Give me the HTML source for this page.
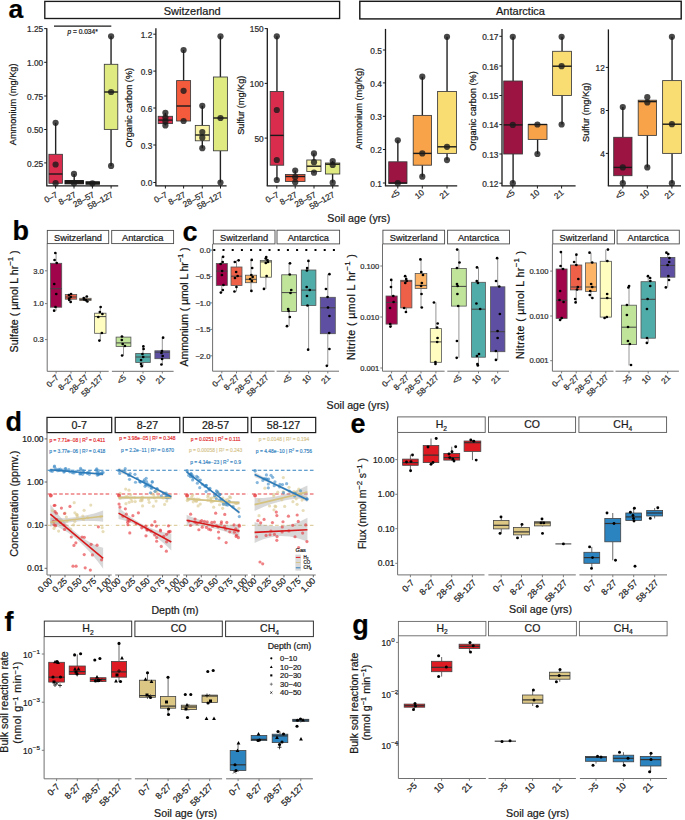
<!DOCTYPE html>
<html><head><meta charset="utf-8"><style>
html,body{margin:0;padding:0;background:#fff;}
svg{display:block;font-family:"Liberation Sans",sans-serif;}
text{stroke:#1a1a1a;stroke-width:0.22px;}
text.c{stroke:none;}
</style></head><body>
<svg width="685" height="820" viewBox="0 0 685 820">
<rect width="685" height="820" fill="#fff"/>
<rect x="44.8" y="1.4" width="294.8" height="17.1" fill="#fff" stroke="#1a1a1a" stroke-width="1.35"/>
<text x="192.2" y="14.6" font-size="11" fill="#1a1a1a" text-anchor="middle">Switzerland</text>
<rect x="359.8" y="1.3" width="321.4" height="17.6" fill="#fff" stroke="#1a1a1a" stroke-width="1.45"/>
<text x="520.5" y="14.6" font-size="11" fill="#1a1a1a" text-anchor="middle">Antarctica</text>
<text x="8.6" y="18.4" font-size="26.5" fill="#000" font-weight="bold">a</text>
<line x1="46.8" y1="28.2" x2="46.8" y2="185.8" stroke="#1a1a1a" stroke-width="1.3"/>
<line x1="46.2" y1="185.8" x2="118.2" y2="185.8" stroke="#1a1a1a" stroke-width="1.3"/>
<line x1="44.2" y1="28.6" x2="46.8" y2="28.6" stroke="#1a1a1a" stroke-width="1"/>
<text x="43.2" y="32.3" font-size="8.3" fill="#333" text-anchor="end">1.25</text>
<line x1="44.2" y1="62.3" x2="46.8" y2="62.3" stroke="#1a1a1a" stroke-width="1"/>
<text x="43.2" y="66" font-size="8.3" fill="#333" text-anchor="end">1.00</text>
<line x1="44.2" y1="96" x2="46.8" y2="96" stroke="#1a1a1a" stroke-width="1"/>
<text x="43.2" y="99.7" font-size="8.3" fill="#333" text-anchor="end">0.75</text>
<line x1="44.2" y1="129.5" x2="46.8" y2="129.5" stroke="#1a1a1a" stroke-width="1"/>
<text x="43.2" y="133.2" font-size="8.3" fill="#333" text-anchor="end">0.50</text>
<line x1="44.2" y1="162.9" x2="46.8" y2="162.9" stroke="#1a1a1a" stroke-width="1"/>
<text x="43.2" y="166.6" font-size="8.3" fill="#333" text-anchor="end">0.25</text>
<line x1="55.6" y1="185.8" x2="55.6" y2="188.5" stroke="#1a1a1a" stroke-width="1"/>
<text x="58.3" y="196.4" font-size="8.3" fill="#333" text-anchor="end" transform="rotate(-29 58.3 196.4)">0–7</text>
<line x1="74" y1="185.8" x2="74" y2="188.5" stroke="#1a1a1a" stroke-width="1"/>
<text x="76.7" y="196.4" font-size="8.3" fill="#333" text-anchor="end" transform="rotate(-29 76.7 196.4)">8–27</text>
<line x1="92.4" y1="185.8" x2="92.4" y2="188.5" stroke="#1a1a1a" stroke-width="1"/>
<text x="95.1" y="196.4" font-size="8.3" fill="#333" text-anchor="end" transform="rotate(-29 95.1 196.4)">28–57</text>
<line x1="111.1" y1="185.8" x2="111.1" y2="188.5" stroke="#1a1a1a" stroke-width="1"/>
<text x="113.8" y="196.4" font-size="8.3" fill="#333" text-anchor="end" transform="rotate(-29 113.8 196.4)">58–127</text>
<text x="16.5" y="104.4" font-size="9.2" fill="#111" text-anchor="middle" transform="rotate(-90 16.5 104.4)">Ammonium (mg/Kg)</text>
<line x1="54" y1="26.1" x2="111.3" y2="26.1" stroke="#1a1a1a" stroke-width="1.1"/>
<text x="82.6" y="33.6" font-size="6.6" fill="#222" text-anchor="middle"><tspan font-style="italic">p</tspan> = 0.034*</text>
<line x1="55.65" y1="122.8" x2="55.65" y2="154.3" stroke="#222" stroke-width="1.4"/>
<rect x="48.9" y="154.3" width="13.5" height="29" fill="#DA2D4E" stroke="#3a3a3a" stroke-width="0.85"/>
<line x1="48.9" y1="174" x2="62.4" y2="174" stroke="#1a1a1a" stroke-width="1.4"/>
<line x1="74.2" y1="173.9" x2="74.2" y2="180.6" stroke="#222" stroke-width="1.4"/>
<rect x="65" y="180.6" width="18.4" height="3.2" fill="#2a1a14" stroke="#111" stroke-width="1.0"/>
<line x1="65" y1="182" x2="83.4" y2="182" stroke="#1a1a1a" stroke-width="1.4"/>
<rect x="86" y="181.8" width="13.4" height="2.4" fill="#2a2a1a" stroke="#111" stroke-width="1.0"/>
<line x1="86" y1="183" x2="99.4" y2="183" stroke="#1a1a1a" stroke-width="1.4"/>
<line x1="111.05" y1="36.3" x2="111.05" y2="64.3" stroke="#222" stroke-width="1.4"/>
<line x1="111.05" y1="129.4" x2="111.05" y2="165.9" stroke="#222" stroke-width="1.4"/>
<rect x="104.3" y="64.3" width="13.5" height="65.1" fill="#DFEB80" stroke="#3a3a3a" stroke-width="0.85"/>
<line x1="104.3" y1="92" x2="117.8" y2="92" stroke="#1a1a1a" stroke-width="1.4"/>
<circle cx="55.6" cy="122.8" r="3.1" fill="#1a1a1a" fill-opacity="0.8"/>
<circle cx="55.6" cy="164.5" r="3.1" fill="#1a1a1a" fill-opacity="0.8"/>
<circle cx="55.6" cy="183.2" r="3.1" fill="#1a1a1a" fill-opacity="0.8"/>
<circle cx="74" cy="173.9" r="3.1" fill="#1a1a1a" fill-opacity="0.8"/>
<circle cx="74" cy="183.3" r="3.1" fill="#1a1a1a" fill-opacity="0.8"/>
<circle cx="92.4" cy="183.3" r="3.1" fill="#1a1a1a" fill-opacity="0.8"/>
<circle cx="111.1" cy="36.3" r="3.1" fill="#1a1a1a" fill-opacity="0.8"/>
<circle cx="111.1" cy="92" r="3.1" fill="#1a1a1a" fill-opacity="0.8"/>
<circle cx="111.1" cy="165.9" r="3.1" fill="#1a1a1a" fill-opacity="0.8"/>
<line x1="155.9" y1="28.2" x2="155.9" y2="185.8" stroke="#1a1a1a" stroke-width="1.3"/>
<line x1="155.3" y1="185.8" x2="226.6" y2="185.8" stroke="#1a1a1a" stroke-width="1.3"/>
<line x1="153.3" y1="34.2" x2="155.9" y2="34.2" stroke="#1a1a1a" stroke-width="1"/>
<text x="152.3" y="37.9" font-size="8.3" fill="#333" text-anchor="end">1.2</text>
<line x1="153.3" y1="71.1" x2="155.9" y2="71.1" stroke="#1a1a1a" stroke-width="1"/>
<text x="152.3" y="74.8" font-size="8.3" fill="#333" text-anchor="end">0.9</text>
<line x1="153.3" y1="108" x2="155.9" y2="108" stroke="#1a1a1a" stroke-width="1"/>
<text x="152.3" y="111.7" font-size="8.3" fill="#333" text-anchor="end">0.6</text>
<line x1="153.3" y1="145" x2="155.9" y2="145" stroke="#1a1a1a" stroke-width="1"/>
<text x="152.3" y="148.7" font-size="8.3" fill="#333" text-anchor="end">0.3</text>
<line x1="153.3" y1="182.5" x2="155.9" y2="182.5" stroke="#1a1a1a" stroke-width="1"/>
<text x="152.3" y="186.2" font-size="8.3" fill="#333" text-anchor="end">0.0</text>
<line x1="165.4" y1="185.8" x2="165.4" y2="188.5" stroke="#1a1a1a" stroke-width="1"/>
<text x="168.1" y="196.4" font-size="8.3" fill="#333" text-anchor="end" transform="rotate(-29 168.1 196.4)">0–7</text>
<line x1="183.6" y1="185.8" x2="183.6" y2="188.5" stroke="#1a1a1a" stroke-width="1"/>
<text x="186.3" y="196.4" font-size="8.3" fill="#333" text-anchor="end" transform="rotate(-29 186.3 196.4)">8–27</text>
<line x1="202.3" y1="185.8" x2="202.3" y2="188.5" stroke="#1a1a1a" stroke-width="1"/>
<text x="205" y="196.4" font-size="8.3" fill="#333" text-anchor="end" transform="rotate(-29 205 196.4)">28–57</text>
<line x1="220.5" y1="185.8" x2="220.5" y2="188.5" stroke="#1a1a1a" stroke-width="1"/>
<text x="223.2" y="196.4" font-size="8.3" fill="#333" text-anchor="end" transform="rotate(-29 223.2 196.4)">58–127</text>
<text x="131.8" y="107.7" font-size="9.2" fill="#111" text-anchor="middle" transform="rotate(-90 131.8 107.7)">Organic carbon (%)</text>
<line x1="165.35" y1="112.8" x2="165.35" y2="116.3" stroke="#222" stroke-width="1.4"/>
<line x1="165.35" y1="123.6" x2="165.35" y2="125.4" stroke="#222" stroke-width="1.4"/>
<rect x="158.2" y="116.3" width="14.3" height="7.3" fill="#DA2D4E" stroke="#3a3a3a" stroke-width="0.85"/>
<line x1="158.2" y1="120.1" x2="172.5" y2="120.1" stroke="#1a1a1a" stroke-width="1.4"/>
<line x1="183.6" y1="50" x2="183.6" y2="80.6" stroke="#222" stroke-width="1.4"/>
<rect x="176.6" y="80.6" width="14" height="40.4" fill="#F45A3C" stroke="#3a3a3a" stroke-width="0.85"/>
<line x1="176.6" y1="106" x2="190.6" y2="106" stroke="#1a1a1a" stroke-width="1.4"/>
<line x1="202.3" y1="105.8" x2="202.3" y2="125.4" stroke="#222" stroke-width="1.4"/>
<line x1="202.3" y1="140.8" x2="202.3" y2="148.2" stroke="#222" stroke-width="1.4"/>
<rect x="195.3" y="125.4" width="14" height="15.4" fill="#F9F3A6" stroke="#3a3a3a" stroke-width="0.85"/>
<line x1="195.3" y1="135" x2="209.3" y2="135" stroke="#1a1a1a" stroke-width="1.4"/>
<line x1="220.4" y1="36.3" x2="220.4" y2="77" stroke="#222" stroke-width="1.4"/>
<line x1="220.4" y1="150.8" x2="220.4" y2="182.6" stroke="#222" stroke-width="1.4"/>
<rect x="213.4" y="77" width="14" height="73.8" fill="#DFEB80" stroke="#3a3a3a" stroke-width="0.85"/>
<line x1="213.4" y1="118" x2="227.4" y2="118" stroke="#1a1a1a" stroke-width="1.4"/>
<circle cx="165.4" cy="112.8" r="3.1" fill="#1a1a1a" fill-opacity="0.8"/>
<circle cx="165.4" cy="117.5" r="3.1" fill="#1a1a1a" fill-opacity="0.8"/>
<circle cx="165.4" cy="121.4" r="3.1" fill="#1a1a1a" fill-opacity="0.8"/>
<circle cx="165.4" cy="125.4" r="3.1" fill="#1a1a1a" fill-opacity="0.8"/>
<circle cx="183.6" cy="50" r="3.1" fill="#1a1a1a" fill-opacity="0.8"/>
<circle cx="183.6" cy="90.8" r="3.1" fill="#1a1a1a" fill-opacity="0.8"/>
<circle cx="183.6" cy="121" r="3.1" fill="#1a1a1a" fill-opacity="0.8"/>
<circle cx="202.3" cy="105.8" r="3.1" fill="#1a1a1a" fill-opacity="0.8"/>
<circle cx="202.3" cy="132" r="3.1" fill="#1a1a1a" fill-opacity="0.8"/>
<circle cx="202.3" cy="137.7" r="3.1" fill="#1a1a1a" fill-opacity="0.8"/>
<circle cx="202.3" cy="148.2" r="3.1" fill="#1a1a1a" fill-opacity="0.8"/>
<circle cx="220.5" cy="36.3" r="3.1" fill="#1a1a1a" fill-opacity="0.8"/>
<circle cx="220.5" cy="118" r="3.1" fill="#1a1a1a" fill-opacity="0.8"/>
<circle cx="220.5" cy="182.6" r="3.1" fill="#1a1a1a" fill-opacity="0.8"/>
<line x1="267.3" y1="28.2" x2="267.3" y2="185.8" stroke="#1a1a1a" stroke-width="1.3"/>
<line x1="266.7" y1="185.8" x2="338.6" y2="185.8" stroke="#1a1a1a" stroke-width="1.3"/>
<line x1="264.7" y1="28.6" x2="267.3" y2="28.6" stroke="#1a1a1a" stroke-width="1"/>
<text x="263.7" y="32.3" font-size="8.3" fill="#333" text-anchor="end">150</text>
<line x1="264.7" y1="83.4" x2="267.3" y2="83.4" stroke="#1a1a1a" stroke-width="1"/>
<text x="263.7" y="87.1" font-size="8.3" fill="#333" text-anchor="end">100</text>
<line x1="264.7" y1="138.1" x2="267.3" y2="138.1" stroke="#1a1a1a" stroke-width="1"/>
<text x="263.7" y="141.8" font-size="8.3" fill="#333" text-anchor="end">50</text>
<line x1="276.8" y1="185.8" x2="276.8" y2="188.5" stroke="#1a1a1a" stroke-width="1"/>
<text x="279.5" y="196.4" font-size="8.3" fill="#333" text-anchor="end" transform="rotate(-29 279.5 196.4)">0–7</text>
<line x1="295.2" y1="185.8" x2="295.2" y2="188.5" stroke="#1a1a1a" stroke-width="1"/>
<text x="297.9" y="196.4" font-size="8.3" fill="#333" text-anchor="end" transform="rotate(-29 297.9 196.4)">8–27</text>
<line x1="314" y1="185.8" x2="314" y2="188.5" stroke="#1a1a1a" stroke-width="1"/>
<text x="316.7" y="196.4" font-size="8.3" fill="#333" text-anchor="end" transform="rotate(-29 316.7 196.4)">28–57</text>
<line x1="332.7" y1="185.8" x2="332.7" y2="188.5" stroke="#1a1a1a" stroke-width="1"/>
<text x="335.4" y="196.4" font-size="8.3" fill="#333" text-anchor="end" transform="rotate(-29 335.4 196.4)">58–127</text>
<text x="244.3" y="105.2" font-size="9.2" fill="#111" text-anchor="middle" transform="rotate(-90 244.3 105.2)">Sulfur (mg/Kg)</text>
<line x1="276.95" y1="36.3" x2="276.95" y2="91.5" stroke="#222" stroke-width="1.4"/>
<line x1="276.95" y1="165.2" x2="276.95" y2="180" stroke="#222" stroke-width="1.4"/>
<rect x="270.2" y="91.5" width="13.5" height="73.7" fill="#DA2D4E" stroke="#3a3a3a" stroke-width="0.85"/>
<line x1="270.2" y1="135.4" x2="283.7" y2="135.4" stroke="#1a1a1a" stroke-width="1.4"/>
<line x1="295.2" y1="170.6" x2="295.2" y2="174.5" stroke="#222" stroke-width="1.4"/>
<line x1="295.2" y1="181.5" x2="295.2" y2="182.3" stroke="#222" stroke-width="1.4"/>
<rect x="285.4" y="174.5" width="19.6" height="7" fill="#F45A3C" stroke="#3a3a3a" stroke-width="0.85"/>
<line x1="285.4" y1="176.5" x2="305" y2="176.5" stroke="#1a1a1a" stroke-width="1.4"/>
<line x1="313.9" y1="153.4" x2="313.9" y2="160" stroke="#222" stroke-width="1.4"/>
<line x1="313.9" y1="171.5" x2="313.9" y2="172.7" stroke="#222" stroke-width="1.4"/>
<rect x="306.8" y="160" width="14.2" height="11.5" fill="#F9F3A6" stroke="#3a3a3a" stroke-width="0.85"/>
<line x1="306.8" y1="166.2" x2="321" y2="166.2" stroke="#1a1a1a" stroke-width="1.4"/>
<line x1="332.6" y1="161" x2="332.6" y2="163" stroke="#222" stroke-width="1.4"/>
<line x1="332.6" y1="174" x2="332.6" y2="182.7" stroke="#222" stroke-width="1.4"/>
<rect x="325.4" y="163" width="14.4" height="11" fill="#DFEB80" stroke="#3a3a3a" stroke-width="0.85"/>
<line x1="325.4" y1="164.2" x2="339.8" y2="164.2" stroke="#1a1a1a" stroke-width="1.4"/>
<circle cx="276.8" cy="36.3" r="3.1" fill="#1a1a1a" fill-opacity="0.8"/>
<circle cx="276.8" cy="110" r="3.1" fill="#1a1a1a" fill-opacity="0.8"/>
<circle cx="276.8" cy="160" r="3.1" fill="#1a1a1a" fill-opacity="0.8"/>
<circle cx="276.8" cy="180" r="3.1" fill="#1a1a1a" fill-opacity="0.8"/>
<circle cx="295.2" cy="170.6" r="3.1" fill="#1a1a1a" fill-opacity="0.8"/>
<circle cx="295.2" cy="177" r="3.1" fill="#1a1a1a" fill-opacity="0.8"/>
<circle cx="295.2" cy="182.3" r="3.1" fill="#1a1a1a" fill-opacity="0.8"/>
<circle cx="314" cy="153.4" r="3.1" fill="#1a1a1a" fill-opacity="0.8"/>
<circle cx="314" cy="162.2" r="3.1" fill="#1a1a1a" fill-opacity="0.8"/>
<circle cx="314" cy="172.7" r="3.1" fill="#1a1a1a" fill-opacity="0.8"/>
<circle cx="332.7" cy="161" r="3.1" fill="#1a1a1a" fill-opacity="0.8"/>
<circle cx="332.7" cy="165" r="3.1" fill="#1a1a1a" fill-opacity="0.8"/>
<circle cx="332.7" cy="182.7" r="3.1" fill="#1a1a1a" fill-opacity="0.8"/>
<line x1="385.5" y1="28.9" x2="385.5" y2="185.8" stroke="#1a1a1a" stroke-width="1.3"/>
<line x1="384.9" y1="185.8" x2="457.2" y2="185.8" stroke="#1a1a1a" stroke-width="1.3"/>
<line x1="382.9" y1="50" x2="385.5" y2="50" stroke="#1a1a1a" stroke-width="1"/>
<text x="381.9" y="53.7" font-size="8.3" fill="#333" text-anchor="end">0.5</text>
<line x1="382.9" y1="82.9" x2="385.5" y2="82.9" stroke="#1a1a1a" stroke-width="1"/>
<text x="381.9" y="86.6" font-size="8.3" fill="#333" text-anchor="end">0.4</text>
<line x1="382.9" y1="116.3" x2="385.5" y2="116.3" stroke="#1a1a1a" stroke-width="1"/>
<text x="381.9" y="120" font-size="8.3" fill="#333" text-anchor="end">0.3</text>
<line x1="382.9" y1="149.5" x2="385.5" y2="149.5" stroke="#1a1a1a" stroke-width="1"/>
<text x="381.9" y="153.2" font-size="8.3" fill="#333" text-anchor="end">0.2</text>
<line x1="382.9" y1="183" x2="385.5" y2="183" stroke="#1a1a1a" stroke-width="1"/>
<text x="381.9" y="186.7" font-size="8.3" fill="#333" text-anchor="end">0.1</text>
<line x1="397.8" y1="185.8" x2="397.8" y2="188.5" stroke="#1a1a1a" stroke-width="1"/>
<text x="400.4" y="193.6" font-size="8.3" fill="#333" text-anchor="end" transform="rotate(-40 400.4 193.6)">&lt;5</text>
<line x1="422.3" y1="185.8" x2="422.3" y2="188.5" stroke="#1a1a1a" stroke-width="1"/>
<text x="424.9" y="193.6" font-size="8.3" fill="#333" text-anchor="end" transform="rotate(-40 424.9 193.6)">10</text>
<line x1="447" y1="185.8" x2="447" y2="188.5" stroke="#1a1a1a" stroke-width="1"/>
<text x="449.6" y="193.6" font-size="8.3" fill="#333" text-anchor="end" transform="rotate(-40 449.6 193.6)">21</text>
<text x="362.1" y="108.7" font-size="9.2" fill="#111" text-anchor="middle" transform="rotate(-90 362.1 108.7)">Ammonium (mg/Kg)</text>
<line x1="397.85" y1="140.3" x2="397.85" y2="161.8" stroke="#222" stroke-width="1.4"/>
<rect x="388.7" y="161.8" width="18.3" height="21.5" fill="#9C1441" stroke="#3a3a3a" stroke-width="0.85"/>
<line x1="388.7" y1="183" x2="407" y2="183" stroke="#1a1a1a" stroke-width="1.4"/>
<line x1="422.35" y1="76.7" x2="422.35" y2="115.4" stroke="#222" stroke-width="1.4"/>
<line x1="422.35" y1="165.2" x2="422.35" y2="176.7" stroke="#222" stroke-width="1.4"/>
<rect x="413.2" y="115.4" width="18.3" height="49.8" fill="#F8A24A" stroke="#3a3a3a" stroke-width="0.85"/>
<line x1="413.2" y1="153.4" x2="431.5" y2="153.4" stroke="#1a1a1a" stroke-width="1.4"/>
<line x1="447.05" y1="36.8" x2="447.05" y2="91.5" stroke="#222" stroke-width="1.4"/>
<line x1="447.05" y1="153.4" x2="447.05" y2="160.1" stroke="#222" stroke-width="1.4"/>
<rect x="437.6" y="91.5" width="18.9" height="61.9" fill="#F9DC72" stroke="#3a3a3a" stroke-width="0.85"/>
<line x1="437.6" y1="146.8" x2="456.5" y2="146.8" stroke="#1a1a1a" stroke-width="1.4"/>
<circle cx="397.8" cy="140.3" r="3.1" fill="#1a1a1a" fill-opacity="0.8"/>
<circle cx="397.8" cy="183.2" r="3.1" fill="#1a1a1a" fill-opacity="0.8"/>
<circle cx="422.3" cy="76.7" r="3.1" fill="#1a1a1a" fill-opacity="0.8"/>
<circle cx="422.3" cy="153.4" r="3.1" fill="#1a1a1a" fill-opacity="0.8"/>
<circle cx="422.3" cy="176.7" r="3.1" fill="#1a1a1a" fill-opacity="0.8"/>
<circle cx="447" cy="36.8" r="3.1" fill="#1a1a1a" fill-opacity="0.8"/>
<circle cx="447" cy="146.8" r="3.1" fill="#1a1a1a" fill-opacity="0.8"/>
<circle cx="447" cy="160.1" r="3.1" fill="#1a1a1a" fill-opacity="0.8"/>
<line x1="502" y1="28.9" x2="502" y2="185.8" stroke="#1a1a1a" stroke-width="1.3"/>
<line x1="501.4" y1="185.8" x2="575.6" y2="185.8" stroke="#1a1a1a" stroke-width="1.3"/>
<line x1="499.4" y1="36.3" x2="502" y2="36.3" stroke="#1a1a1a" stroke-width="1"/>
<text x="498.4" y="40" font-size="8.3" fill="#333" text-anchor="end">0.17</text>
<line x1="499.4" y1="66" x2="502" y2="66" stroke="#1a1a1a" stroke-width="1"/>
<text x="498.4" y="69.7" font-size="8.3" fill="#333" text-anchor="end">0.16</text>
<line x1="499.4" y1="95.5" x2="502" y2="95.5" stroke="#1a1a1a" stroke-width="1"/>
<text x="498.4" y="99.2" font-size="8.3" fill="#333" text-anchor="end">0.15</text>
<line x1="499.4" y1="124.6" x2="502" y2="124.6" stroke="#1a1a1a" stroke-width="1"/>
<text x="498.4" y="128.3" font-size="8.3" fill="#333" text-anchor="end">0.14</text>
<line x1="499.4" y1="154" x2="502" y2="154" stroke="#1a1a1a" stroke-width="1"/>
<text x="498.4" y="157.7" font-size="8.3" fill="#333" text-anchor="end">0.13</text>
<line x1="499.4" y1="183.2" x2="502" y2="183.2" stroke="#1a1a1a" stroke-width="1"/>
<text x="498.4" y="186.9" font-size="8.3" fill="#333" text-anchor="end">0.12</text>
<line x1="512.8" y1="185.8" x2="512.8" y2="188.5" stroke="#1a1a1a" stroke-width="1"/>
<text x="515.4" y="193.6" font-size="8.3" fill="#333" text-anchor="end" transform="rotate(-40 515.4 193.6)">&lt;5</text>
<line x1="537.4" y1="185.8" x2="537.4" y2="188.5" stroke="#1a1a1a" stroke-width="1"/>
<text x="540" y="193.6" font-size="8.3" fill="#333" text-anchor="end" transform="rotate(-40 540 193.6)">10</text>
<line x1="561.6" y1="185.8" x2="561.6" y2="188.5" stroke="#1a1a1a" stroke-width="1"/>
<text x="564.2" y="193.6" font-size="8.3" fill="#333" text-anchor="end" transform="rotate(-40 564.2 193.6)">21</text>
<text x="476.3" y="111" font-size="9.2" fill="#111" text-anchor="middle" transform="rotate(-90 476.3 111)">Organic carbon (%)</text>
<line x1="513.1" y1="36.8" x2="513.1" y2="81" stroke="#222" stroke-width="1.4"/>
<line x1="513.1" y1="154" x2="513.1" y2="183.2" stroke="#222" stroke-width="1.4"/>
<rect x="503.7" y="81" width="18.8" height="73" fill="#9C1441" stroke="#3a3a3a" stroke-width="0.85"/>
<line x1="503.7" y1="124.9" x2="522.5" y2="124.9" stroke="#1a1a1a" stroke-width="1.4"/>
<line x1="537.6" y1="139.4" x2="537.6" y2="154" stroke="#222" stroke-width="1.4"/>
<rect x="528.2" y="124.5" width="18.8" height="14.9" fill="#F8A24A" stroke="#3a3a3a" stroke-width="0.85"/>
<line x1="528.2" y1="124.5" x2="547" y2="124.5" stroke="#1a1a1a" stroke-width="1.4"/>
<line x1="562.05" y1="36.8" x2="562.05" y2="51.3" stroke="#222" stroke-width="1.4"/>
<line x1="562.05" y1="95.5" x2="562.05" y2="124.5" stroke="#222" stroke-width="1.4"/>
<rect x="552.6" y="51.3" width="18.9" height="44.2" fill="#F9DC72" stroke="#3a3a3a" stroke-width="0.85"/>
<line x1="552.6" y1="66.2" x2="571.5" y2="66.2" stroke="#1a1a1a" stroke-width="1.4"/>
<circle cx="512.8" cy="36.8" r="3.1" fill="#1a1a1a" fill-opacity="0.8"/>
<circle cx="512.8" cy="124.9" r="3.1" fill="#1a1a1a" fill-opacity="0.8"/>
<circle cx="512.8" cy="183.2" r="3.1" fill="#1a1a1a" fill-opacity="0.8"/>
<circle cx="537.4" cy="124.5" r="3.1" fill="#1a1a1a" fill-opacity="0.8"/>
<circle cx="537.4" cy="154" r="3.1" fill="#1a1a1a" fill-opacity="0.8"/>
<circle cx="561.6" cy="36.8" r="3.1" fill="#1a1a1a" fill-opacity="0.8"/>
<circle cx="561.6" cy="66.2" r="3.1" fill="#1a1a1a" fill-opacity="0.8"/>
<circle cx="561.6" cy="124.5" r="3.1" fill="#1a1a1a" fill-opacity="0.8"/>
<line x1="608.4" y1="29.4" x2="608.4" y2="185.8" stroke="#1a1a1a" stroke-width="1.3"/>
<line x1="607.8" y1="185.8" x2="681" y2="185.8" stroke="#1a1a1a" stroke-width="1.3"/>
<line x1="605.8" y1="67.4" x2="608.4" y2="67.4" stroke="#1a1a1a" stroke-width="1"/>
<text x="604.8" y="71.1" font-size="8.3" fill="#333" text-anchor="end">12</text>
<line x1="605.8" y1="110.5" x2="608.4" y2="110.5" stroke="#1a1a1a" stroke-width="1"/>
<text x="604.8" y="114.2" font-size="8.3" fill="#333" text-anchor="end">8</text>
<line x1="605.8" y1="153.4" x2="608.4" y2="153.4" stroke="#1a1a1a" stroke-width="1"/>
<text x="604.8" y="157.1" font-size="8.3" fill="#333" text-anchor="end">4</text>
<line x1="622.8" y1="185.8" x2="622.8" y2="188.5" stroke="#1a1a1a" stroke-width="1"/>
<text x="625.4" y="193.6" font-size="8.3" fill="#333" text-anchor="end" transform="rotate(-40 625.4 193.6)">&lt;5</text>
<line x1="647.3" y1="185.8" x2="647.3" y2="188.5" stroke="#1a1a1a" stroke-width="1"/>
<text x="649.9" y="193.6" font-size="8.3" fill="#333" text-anchor="end" transform="rotate(-40 649.9 193.6)">10</text>
<line x1="671.9" y1="185.8" x2="671.9" y2="188.5" stroke="#1a1a1a" stroke-width="1"/>
<text x="674.5" y="193.6" font-size="8.3" fill="#333" text-anchor="end" transform="rotate(-40 674.5 193.6)">21</text>
<text x="588.7" y="112.3" font-size="9.2" fill="#111" text-anchor="middle" transform="rotate(-90 588.7 112.3)">Sulfur (mg/Kg)</text>
<line x1="622.85" y1="107" x2="622.85" y2="137.3" stroke="#222" stroke-width="1.4"/>
<line x1="622.85" y1="175.7" x2="622.85" y2="183.2" stroke="#222" stroke-width="1.4"/>
<rect x="613.7" y="137.3" width="18.3" height="38.4" fill="#9C1441" stroke="#3a3a3a" stroke-width="0.85"/>
<line x1="613.7" y1="167.4" x2="632" y2="167.4" stroke="#1a1a1a" stroke-width="1.4"/>
<line x1="647.35" y1="135.4" x2="647.35" y2="167.4" stroke="#222" stroke-width="1.4"/>
<rect x="638.2" y="100.2" width="18.3" height="35.2" fill="#F8A24A" stroke="#3a3a3a" stroke-width="0.85"/>
<line x1="638.2" y1="101.6" x2="656.5" y2="101.6" stroke="#1a1a1a" stroke-width="1.4"/>
<line x1="672.05" y1="36.8" x2="672.05" y2="80.6" stroke="#222" stroke-width="1.4"/>
<line x1="672.05" y1="153.4" x2="672.05" y2="183.2" stroke="#222" stroke-width="1.4"/>
<rect x="662.6" y="80.6" width="18.9" height="72.8" fill="#F9DC72" stroke="#3a3a3a" stroke-width="0.85"/>
<line x1="662.6" y1="124.2" x2="681.5" y2="124.2" stroke="#1a1a1a" stroke-width="1.4"/>
<circle cx="622.8" cy="107" r="3.1" fill="#1a1a1a" fill-opacity="0.8"/>
<circle cx="622.8" cy="167.4" r="3.1" fill="#1a1a1a" fill-opacity="0.8"/>
<circle cx="622.8" cy="183.2" r="3.1" fill="#1a1a1a" fill-opacity="0.8"/>
<circle cx="647.3" cy="97.2" r="3.1" fill="#1a1a1a" fill-opacity="0.8"/>
<circle cx="647.3" cy="102.5" r="3.1" fill="#1a1a1a" fill-opacity="0.8"/>
<circle cx="647.3" cy="167.4" r="3.1" fill="#1a1a1a" fill-opacity="0.8"/>
<circle cx="671.9" cy="36.8" r="3.1" fill="#1a1a1a" fill-opacity="0.8"/>
<circle cx="671.9" cy="124.2" r="3.1" fill="#1a1a1a" fill-opacity="0.8"/>
<circle cx="671.9" cy="183.2" r="3.1" fill="#1a1a1a" fill-opacity="0.8"/>
<text x="358.8" y="221.6" font-size="10.7" fill="#1a1a1a" text-anchor="middle">Soil age (yrs)</text>
<text x="12.6" y="239.9" font-size="27" fill="#000" font-weight="bold">b</text>
<text x="182.4" y="240.6" font-size="27" fill="#000" font-weight="bold">c</text>
<rect x="47.3" y="230.4" width="61.4" height="13.2" fill="#fff" stroke="#4a4a4a" stroke-width="0.9"/>
<text x="78" y="240.5" font-size="9.3" fill="#1a1a1a" text-anchor="middle">Switzerland</text>
<rect x="111.7" y="230.4" width="61.9" height="13.2" fill="#fff" stroke="#4a4a4a" stroke-width="0.9"/>
<text x="142.65" y="240.5" font-size="9.3" fill="#1a1a1a" text-anchor="middle">Antarctica</text>
<line x1="47.2" y1="243.6" x2="47.2" y2="371.3" stroke="#6e6e6e" stroke-width="1.0"/>
<line x1="47.2" y1="371.3" x2="108.7" y2="371.3" stroke="#6e6e6e" stroke-width="1.0"/>
<line x1="111.9" y1="371.3" x2="173.6" y2="371.3" stroke="#6e6e6e" stroke-width="1.0"/>
<line x1="45" y1="270.8" x2="47.2" y2="270.8" stroke="#6e6e6e" stroke-width="0.9"/>
<text x="43.8" y="273.5" font-size="7.6" fill="#3a3a3a" text-anchor="end">3.0</text>
<line x1="45" y1="303.6" x2="47.2" y2="303.6" stroke="#6e6e6e" stroke-width="0.9"/>
<text x="43.8" y="306.3" font-size="7.6" fill="#3a3a3a" text-anchor="end">1.0</text>
<line x1="45" y1="339.6" x2="47.2" y2="339.6" stroke="#6e6e6e" stroke-width="0.9"/>
<text x="43.8" y="342.3" font-size="7.6" fill="#3a3a3a" text-anchor="end">0.3</text>
<line x1="56.1" y1="371.3" x2="56.1" y2="373.5" stroke="#6e6e6e" stroke-width="0.9"/>
<text x="59.3" y="378.1" font-size="8.1" fill="#3a3a3a" text-anchor="end" transform="rotate(-45 59.3 378.1)">0–7</text>
<line x1="71" y1="371.3" x2="71" y2="373.5" stroke="#6e6e6e" stroke-width="0.9"/>
<text x="74.2" y="378.1" font-size="8.1" fill="#3a3a3a" text-anchor="end" transform="rotate(-45 74.2 378.1)">8–27</text>
<line x1="85.4" y1="371.3" x2="85.4" y2="373.5" stroke="#6e6e6e" stroke-width="0.9"/>
<text x="88.6" y="378.1" font-size="8.1" fill="#3a3a3a" text-anchor="end" transform="rotate(-45 88.6 378.1)">28–57</text>
<line x1="100.3" y1="371.3" x2="100.3" y2="373.5" stroke="#6e6e6e" stroke-width="0.9"/>
<text x="103.5" y="378.1" font-size="8.1" fill="#3a3a3a" text-anchor="end" transform="rotate(-45 103.5 378.1)">58–127</text>
<line x1="123.5" y1="371.3" x2="123.5" y2="373.5" stroke="#6e6e6e" stroke-width="0.9"/>
<text x="126.7" y="378.1" font-size="8.1" fill="#3a3a3a" text-anchor="end" transform="rotate(-45 126.7 378.1)">&lt;5</text>
<line x1="143" y1="371.3" x2="143" y2="373.5" stroke="#6e6e6e" stroke-width="0.9"/>
<text x="146.2" y="378.1" font-size="8.1" fill="#3a3a3a" text-anchor="end" transform="rotate(-45 146.2 378.1)">10</text>
<line x1="162.3" y1="371.3" x2="162.3" y2="373.5" stroke="#6e6e6e" stroke-width="0.9"/>
<text x="165.5" y="378.1" font-size="8.1" fill="#3a3a3a" text-anchor="end" transform="rotate(-45 165.5 378.1)">21</text>
<text x="17.8" y="301.4" font-size="10.6" fill="#111" text-anchor="middle" textLength="102" lengthAdjust="spacing" transform="rotate(-90 17.8 301.4)">Sulfate ( µmol  L hr<tspan dy="-5.2" font-size="7.8">−1</tspan><tspan dy="5.2">  )</tspan></text>
<line x1="56.1" y1="253" x2="56.1" y2="263.3" stroke="#8a8a8a" stroke-width="0.9"/>
<line x1="56.1" y1="307.2" x2="56.1" y2="310.7" stroke="#8a8a8a" stroke-width="0.9"/>
<rect x="50.5" y="263.3" width="11.2" height="43.9" fill="#A0044A" stroke="#555" stroke-width="0.8"/>
<line x1="50.5" y1="288.7" x2="61.7" y2="288.7" stroke="#444" stroke-width="1.0"/>
<circle cx="55.32" cy="253" r="1.35" fill="#000"/>
<circle cx="54.56" cy="260" r="1.35" fill="#000"/>
<circle cx="56.76" cy="263" r="1.35" fill="#000"/>
<circle cx="54.22" cy="284" r="1.35" fill="#000"/>
<circle cx="56.26" cy="294" r="1.35" fill="#000"/>
<circle cx="55.51" cy="307" r="1.35" fill="#000"/>
<circle cx="54.16" cy="310.7" r="1.35" fill="#000"/>
<line x1="71" y1="293" x2="71" y2="294.5" stroke="#8a8a8a" stroke-width="0.9"/>
<line x1="71" y1="299.2" x2="71" y2="302" stroke="#8a8a8a" stroke-width="0.9"/>
<rect x="65.3" y="294.5" width="11.4" height="4.7" fill="#EE6048" stroke="#555" stroke-width="0.8"/>
<line x1="65.3" y1="297" x2="76.7" y2="297" stroke="#444" stroke-width="1.0"/>
<circle cx="71.03" cy="294" r="1.35" fill="#000"/>
<circle cx="68.96" cy="295" r="1.35" fill="#000"/>
<circle cx="70.71" cy="297" r="1.35" fill="#000"/>
<circle cx="69.11" cy="298.5" r="1.35" fill="#000"/>
<circle cx="69.2" cy="300" r="1.35" fill="#000"/>
<circle cx="70.67" cy="302" r="1.35" fill="#000"/>
<line x1="85.4" y1="296.5" x2="85.4" y2="298.3" stroke="#8a8a8a" stroke-width="0.9"/>
<line x1="85.4" y1="300.6" x2="85.4" y2="302" stroke="#8a8a8a" stroke-width="0.9"/>
<rect x="79.7" y="298.3" width="11.4" height="2.3" fill="#FDB466" stroke="#555" stroke-width="0.8"/>
<line x1="79.7" y1="299.5" x2="91.1" y2="299.5" stroke="#444" stroke-width="1.0"/>
<circle cx="86.84" cy="296.5" r="1.35" fill="#000"/>
<circle cx="83.74" cy="298" r="1.35" fill="#000"/>
<circle cx="84.18" cy="299.5" r="1.35" fill="#000"/>
<circle cx="85.96" cy="300" r="1.35" fill="#000"/>
<circle cx="87.37" cy="301.5" r="1.35" fill="#000"/>
<line x1="100.3" y1="307" x2="100.3" y2="313.2" stroke="#8a8a8a" stroke-width="0.9"/>
<line x1="100.3" y1="333.3" x2="100.3" y2="340.6" stroke="#8a8a8a" stroke-width="0.9"/>
<rect x="94.6" y="313.2" width="11.4" height="20.1" fill="#FFFDC0" stroke="#555" stroke-width="0.8"/>
<line x1="94.6" y1="316.6" x2="106" y2="316.6" stroke="#444" stroke-width="1.0"/>
<circle cx="100.64" cy="307" r="1.35" fill="#000"/>
<circle cx="99.85" cy="312" r="1.35" fill="#000"/>
<circle cx="102.4" cy="314" r="1.35" fill="#000"/>
<circle cx="98.3" cy="317" r="1.35" fill="#000"/>
<circle cx="101.88" cy="333" r="1.35" fill="#000"/>
<circle cx="99.37" cy="340.6" r="1.35" fill="#000"/>
<line x1="123.5" y1="336.5" x2="123.5" y2="337.1" stroke="#8a8a8a" stroke-width="0.9"/>
<line x1="123.5" y1="346.4" x2="123.5" y2="355.5" stroke="#8a8a8a" stroke-width="0.9"/>
<rect x="116.1" y="337.1" width="14.8" height="9.3" fill="#C0E59A" stroke="#555" stroke-width="0.8"/>
<line x1="116.1" y1="342.9" x2="130.9" y2="342.9" stroke="#444" stroke-width="1.0"/>
<circle cx="121.93" cy="336.5" r="1.35" fill="#000"/>
<circle cx="121.82" cy="340" r="1.35" fill="#000"/>
<circle cx="122.66" cy="344" r="1.35" fill="#000"/>
<circle cx="124.89" cy="346" r="1.35" fill="#000"/>
<circle cx="122.1" cy="355.5" r="1.35" fill="#000"/>
<line x1="143" y1="346.4" x2="143" y2="353.4" stroke="#8a8a8a" stroke-width="0.9"/>
<line x1="143" y1="362.5" x2="143" y2="366.2" stroke="#8a8a8a" stroke-width="0.9"/>
<rect x="135.7" y="353.4" width="14.6" height="9.1" fill="#50ACA8" stroke="#555" stroke-width="0.8"/>
<line x1="135.7" y1="357" x2="150.3" y2="357" stroke="#444" stroke-width="1.0"/>
<circle cx="143.36" cy="346.4" r="1.35" fill="#000"/>
<circle cx="143.61" cy="349" r="1.35" fill="#000"/>
<circle cx="142.44" cy="354" r="1.35" fill="#000"/>
<circle cx="143.21" cy="357" r="1.35" fill="#000"/>
<circle cx="141.08" cy="360" r="1.35" fill="#000"/>
<circle cx="141.06" cy="364" r="1.35" fill="#000"/>
<circle cx="141.71" cy="366.2" r="1.35" fill="#000"/>
<line x1="162.3" y1="337.7" x2="162.3" y2="350.8" stroke="#8a8a8a" stroke-width="0.9"/>
<line x1="162.3" y1="358.7" x2="162.3" y2="364.5" stroke="#8a8a8a" stroke-width="0.9"/>
<rect x="154.9" y="350.8" width="14.8" height="7.9" fill="#5E4FA3" stroke="#555" stroke-width="0.8"/>
<line x1="154.9" y1="352.2" x2="169.7" y2="352.2" stroke="#444" stroke-width="1.0"/>
<circle cx="163.09" cy="337.7" r="1.35" fill="#000"/>
<circle cx="161.98" cy="351" r="1.35" fill="#000"/>
<circle cx="161.48" cy="353" r="1.35" fill="#000"/>
<circle cx="162.68" cy="356" r="1.35" fill="#000"/>
<circle cx="162.09" cy="359" r="1.35" fill="#000"/>
<circle cx="161.42" cy="364.5" r="1.35" fill="#000"/>
<rect x="213.3" y="230.2" width="61.7" height="13.7" fill="#fff" stroke="#4a4a4a" stroke-width="0.9"/>
<text x="244.15" y="240.8" font-size="9.3" fill="#1a1a1a" text-anchor="middle">Switzerland</text>
<rect x="277" y="230.2" width="62.6" height="13.7" fill="#fff" stroke="#4a4a4a" stroke-width="0.9"/>
<text x="308.3" y="240.8" font-size="9.3" fill="#1a1a1a" text-anchor="middle">Antarctica</text>
<line x1="212.6" y1="243.9" x2="212.6" y2="371.2" stroke="#6e6e6e" stroke-width="1.0"/>
<line x1="212.6" y1="371.2" x2="274.6" y2="371.2" stroke="#6e6e6e" stroke-width="1.0"/>
<line x1="276.6" y1="371.2" x2="339" y2="371.2" stroke="#6e6e6e" stroke-width="1.0"/>
<line x1="210.4" y1="250.1" x2="212.6" y2="250.1" stroke="#6e6e6e" stroke-width="0.9"/>
<text x="210.4" y="252.8" font-size="7.6" fill="#3a3a3a" text-anchor="end">0.0</text>
<line x1="210.4" y1="276.5" x2="212.6" y2="276.5" stroke="#6e6e6e" stroke-width="0.9"/>
<text x="210.4" y="279.2" font-size="7.6" fill="#3a3a3a" text-anchor="end">−0.5</text>
<line x1="210.4" y1="302.9" x2="212.6" y2="302.9" stroke="#6e6e6e" stroke-width="0.9"/>
<text x="210.4" y="305.6" font-size="7.6" fill="#3a3a3a" text-anchor="end">−1.0</text>
<line x1="210.4" y1="329.4" x2="212.6" y2="329.4" stroke="#6e6e6e" stroke-width="0.9"/>
<text x="210.4" y="332.1" font-size="7.6" fill="#3a3a3a" text-anchor="end">−1.5</text>
<line x1="210.4" y1="355.8" x2="212.6" y2="355.8" stroke="#6e6e6e" stroke-width="0.9"/>
<text x="210.4" y="358.5" font-size="7.6" fill="#3a3a3a" text-anchor="end">−2.0</text>
<line x1="221.8" y1="371.2" x2="221.8" y2="373.4" stroke="#6e6e6e" stroke-width="0.9"/>
<text x="225" y="378" font-size="8.1" fill="#3a3a3a" text-anchor="end" transform="rotate(-45 225 378)">0–7</text>
<line x1="236.5" y1="371.2" x2="236.5" y2="373.4" stroke="#6e6e6e" stroke-width="0.9"/>
<text x="239.7" y="378" font-size="8.1" fill="#3a3a3a" text-anchor="end" transform="rotate(-45 239.7 378)">8–27</text>
<line x1="251" y1="371.2" x2="251" y2="373.4" stroke="#6e6e6e" stroke-width="0.9"/>
<text x="254.2" y="378" font-size="8.1" fill="#3a3a3a" text-anchor="end" transform="rotate(-45 254.2 378)">28–57</text>
<line x1="265.9" y1="371.2" x2="265.9" y2="373.4" stroke="#6e6e6e" stroke-width="0.9"/>
<text x="269.1" y="378" font-size="8.1" fill="#3a3a3a" text-anchor="end" transform="rotate(-45 269.1 378)">58–127</text>
<line x1="289.1" y1="371.2" x2="289.1" y2="373.4" stroke="#6e6e6e" stroke-width="0.9"/>
<text x="292.3" y="378" font-size="8.1" fill="#3a3a3a" text-anchor="end" transform="rotate(-45 292.3 378)">&lt;5</text>
<line x1="308.6" y1="371.2" x2="308.6" y2="373.4" stroke="#6e6e6e" stroke-width="0.9"/>
<text x="311.8" y="378" font-size="8.1" fill="#3a3a3a" text-anchor="end" transform="rotate(-45 311.8 378)">10</text>
<line x1="327.8" y1="371.2" x2="327.8" y2="373.4" stroke="#6e6e6e" stroke-width="0.9"/>
<text x="331" y="378" font-size="8.1" fill="#3a3a3a" text-anchor="end" transform="rotate(-45 331 378)">21</text>
<text x="187.9" y="306.9" font-size="10.6" fill="#111" text-anchor="middle" textLength="119" lengthAdjust="spacing" transform="rotate(-90 187.9 306.9)">Ammonium ( µmol  L hr<tspan dy="-5.2" font-size="7.8">−1</tspan><tspan dy="5.2">  )</tspan></text>
<line x1="213.3" y1="250.1" x2="336" y2="250.1" stroke="#000" stroke-width="2.0" stroke-dasharray="2,7.2"/>
<line x1="221.8" y1="256.8" x2="221.8" y2="263.5" stroke="#8a8a8a" stroke-width="0.9"/>
<line x1="221.8" y1="285.4" x2="221.8" y2="292.6" stroke="#8a8a8a" stroke-width="0.9"/>
<rect x="216.3" y="263.5" width="11" height="21.9" fill="#A0044A" stroke="#555" stroke-width="0.8"/>
<line x1="216.3" y1="271.1" x2="227.3" y2="271.1" stroke="#444" stroke-width="1.0"/>
<circle cx="223.1" cy="256.8" r="1.35" fill="#000"/>
<circle cx="222.68" cy="262" r="1.35" fill="#000"/>
<circle cx="220.67" cy="264" r="1.35" fill="#000"/>
<circle cx="222.13" cy="271" r="1.35" fill="#000"/>
<circle cx="221.91" cy="275" r="1.35" fill="#000"/>
<circle cx="223.45" cy="285" r="1.35" fill="#000"/>
<circle cx="222.81" cy="290" r="1.35" fill="#000"/>
<circle cx="220.87" cy="292.6" r="1.35" fill="#000"/>
<line x1="236.5" y1="260.3" x2="236.5" y2="267" stroke="#8a8a8a" stroke-width="0.9"/>
<line x1="236.5" y1="285.4" x2="236.5" y2="291.5" stroke="#8a8a8a" stroke-width="0.9"/>
<rect x="231" y="267" width="11" height="18.4" fill="#EE6048" stroke="#555" stroke-width="0.8"/>
<line x1="231" y1="276.2" x2="242" y2="276.2" stroke="#444" stroke-width="1.0"/>
<circle cx="238.61" cy="260.3" r="1.35" fill="#000"/>
<circle cx="234.82" cy="262" r="1.35" fill="#000"/>
<circle cx="236.14" cy="272" r="1.35" fill="#000"/>
<circle cx="237.63" cy="276" r="1.35" fill="#000"/>
<circle cx="234.97" cy="278" r="1.35" fill="#000"/>
<circle cx="236.45" cy="287" r="1.35" fill="#000"/>
<circle cx="234.47" cy="291.5" r="1.35" fill="#000"/>
<line x1="251" y1="259.9" x2="251" y2="275.2" stroke="#8a8a8a" stroke-width="0.9"/>
<line x1="251" y1="282.7" x2="251" y2="290.9" stroke="#8a8a8a" stroke-width="0.9"/>
<rect x="245.4" y="275.2" width="11.2" height="7.5" fill="#FDB466" stroke="#555" stroke-width="0.8"/>
<line x1="245.4" y1="279.3" x2="256.6" y2="279.3" stroke="#444" stroke-width="1.0"/>
<circle cx="251.74" cy="259.9" r="1.35" fill="#000"/>
<circle cx="252.16" cy="268" r="1.35" fill="#000"/>
<circle cx="251.32" cy="275" r="1.35" fill="#000"/>
<circle cx="252.65" cy="277" r="1.35" fill="#000"/>
<circle cx="250.18" cy="279" r="1.35" fill="#000"/>
<circle cx="251.86" cy="281" r="1.35" fill="#000"/>
<circle cx="251.42" cy="290.9" r="1.35" fill="#000"/>
<line x1="265.9" y1="257" x2="265.9" y2="260.5" stroke="#8a8a8a" stroke-width="0.9"/>
<line x1="265.9" y1="277.2" x2="265.9" y2="288.9" stroke="#8a8a8a" stroke-width="0.9"/>
<rect x="260.3" y="260.5" width="11.2" height="16.7" fill="#FFFDC0" stroke="#555" stroke-width="0.8"/>
<line x1="260.3" y1="261.9" x2="271.5" y2="261.9" stroke="#444" stroke-width="1.0"/>
<circle cx="266.25" cy="257" r="1.35" fill="#000"/>
<circle cx="265.71" cy="258.5" r="1.35" fill="#000"/>
<circle cx="267.4" cy="260" r="1.35" fill="#000"/>
<circle cx="267.86" cy="262" r="1.35" fill="#000"/>
<circle cx="265.79" cy="263" r="1.35" fill="#000"/>
<circle cx="266.62" cy="276" r="1.35" fill="#000"/>
<circle cx="263.97" cy="288.9" r="1.35" fill="#000"/>
<line x1="289.1" y1="263.3" x2="289.1" y2="274.8" stroke="#8a8a8a" stroke-width="0.9"/>
<line x1="289.1" y1="311.6" x2="289.1" y2="326.2" stroke="#8a8a8a" stroke-width="0.9"/>
<rect x="281.7" y="274.8" width="14.8" height="36.8" fill="#C0E59A" stroke="#555" stroke-width="0.8"/>
<line x1="281.7" y1="292.6" x2="296.5" y2="292.6" stroke="#444" stroke-width="1.0"/>
<circle cx="289.99" cy="263.3" r="1.35" fill="#000"/>
<circle cx="289.75" cy="274.5" r="1.35" fill="#000"/>
<circle cx="291.27" cy="290" r="1.35" fill="#000"/>
<circle cx="290.52" cy="293" r="1.35" fill="#000"/>
<circle cx="288.15" cy="309" r="1.35" fill="#000"/>
<circle cx="288.6" cy="311" r="1.35" fill="#000"/>
<circle cx="289.84" cy="317" r="1.35" fill="#000"/>
<circle cx="287" cy="326.2" r="1.35" fill="#000"/>
<line x1="308.6" y1="260.9" x2="308.6" y2="270" stroke="#8a8a8a" stroke-width="0.9"/>
<line x1="308.6" y1="305.5" x2="308.6" y2="349.7" stroke="#8a8a8a" stroke-width="0.9"/>
<rect x="301.3" y="270" width="14.6" height="35.5" fill="#50ACA8" stroke="#555" stroke-width="0.8"/>
<line x1="301.3" y1="290.1" x2="315.9" y2="290.1" stroke="#444" stroke-width="1.0"/>
<circle cx="308.43" cy="260.9" r="1.35" fill="#000"/>
<circle cx="307.14" cy="268" r="1.35" fill="#000"/>
<circle cx="306.92" cy="270.5" r="1.35" fill="#000"/>
<circle cx="306.66" cy="287" r="1.35" fill="#000"/>
<circle cx="309.78" cy="290" r="1.35" fill="#000"/>
<circle cx="306.97" cy="296" r="1.35" fill="#000"/>
<circle cx="307.49" cy="305.5" r="1.35" fill="#000"/>
<circle cx="308.12" cy="349.7" r="1.35" fill="#000"/>
<line x1="327.8" y1="274.2" x2="327.8" y2="297.3" stroke="#8a8a8a" stroke-width="0.9"/>
<line x1="327.8" y1="333.7" x2="327.8" y2="365.8" stroke="#8a8a8a" stroke-width="0.9"/>
<rect x="320.3" y="297.3" width="15" height="36.4" fill="#5E4FA3" stroke="#555" stroke-width="0.8"/>
<line x1="320.3" y1="307.8" x2="335.3" y2="307.8" stroke="#444" stroke-width="1.0"/>
<circle cx="329.43" cy="274.2" r="1.35" fill="#000"/>
<circle cx="325.95" cy="289" r="1.35" fill="#000"/>
<circle cx="327.58" cy="297" r="1.35" fill="#000"/>
<circle cx="328.02" cy="307.5" r="1.35" fill="#000"/>
<circle cx="329.49" cy="316" r="1.35" fill="#000"/>
<circle cx="329.2" cy="333" r="1.35" fill="#000"/>
<circle cx="329.4" cy="349" r="1.35" fill="#000"/>
<circle cx="326.83" cy="365.8" r="1.35" fill="#000"/>
<rect x="382.9" y="230.2" width="61.7" height="13.7" fill="#fff" stroke="#4a4a4a" stroke-width="0.9"/>
<text x="413.75" y="240.8" font-size="9.3" fill="#1a1a1a" text-anchor="middle">Switzerland</text>
<rect x="447.6" y="230.2" width="61.9" height="13.7" fill="#fff" stroke="#4a4a4a" stroke-width="0.9"/>
<text x="478.55" y="240.8" font-size="9.3" fill="#1a1a1a" text-anchor="middle">Antarctica</text>
<line x1="382.5" y1="243.9" x2="382.5" y2="371.2" stroke="#6e6e6e" stroke-width="1.0"/>
<line x1="382.5" y1="371.2" x2="444.6" y2="371.2" stroke="#6e6e6e" stroke-width="1.0"/>
<line x1="447.3" y1="371.2" x2="509" y2="371.2" stroke="#6e6e6e" stroke-width="1.0"/>
<line x1="380.3" y1="266" x2="382.5" y2="266" stroke="#6e6e6e" stroke-width="0.9"/>
<text x="379.2" y="268.7" font-size="7.6" fill="#3a3a3a" text-anchor="end">0.100</text>
<line x1="380.3" y1="317" x2="382.5" y2="317" stroke="#6e6e6e" stroke-width="0.9"/>
<text x="379.2" y="319.7" font-size="7.6" fill="#3a3a3a" text-anchor="end">0.010</text>
<line x1="380.3" y1="368" x2="382.5" y2="368" stroke="#6e6e6e" stroke-width="0.9"/>
<text x="379.2" y="370.7" font-size="7.6" fill="#3a3a3a" text-anchor="end">0.001</text>
<line x1="391.6" y1="371.2" x2="391.6" y2="373.4" stroke="#6e6e6e" stroke-width="0.9"/>
<text x="394.8" y="378" font-size="8.1" fill="#3a3a3a" text-anchor="end" transform="rotate(-45 394.8 378)">0–7</text>
<line x1="406.3" y1="371.2" x2="406.3" y2="373.4" stroke="#6e6e6e" stroke-width="0.9"/>
<text x="409.5" y="378" font-size="8.1" fill="#3a3a3a" text-anchor="end" transform="rotate(-45 409.5 378)">8–27</text>
<line x1="421" y1="371.2" x2="421" y2="373.4" stroke="#6e6e6e" stroke-width="0.9"/>
<text x="424.2" y="378" font-size="8.1" fill="#3a3a3a" text-anchor="end" transform="rotate(-45 424.2 378)">28–57</text>
<line x1="435.9" y1="371.2" x2="435.9" y2="373.4" stroke="#6e6e6e" stroke-width="0.9"/>
<text x="439.1" y="378" font-size="8.1" fill="#3a3a3a" text-anchor="end" transform="rotate(-45 439.1 378)">58–127</text>
<line x1="458.9" y1="371.2" x2="458.9" y2="373.4" stroke="#6e6e6e" stroke-width="0.9"/>
<text x="462.1" y="378" font-size="8.1" fill="#3a3a3a" text-anchor="end" transform="rotate(-45 462.1 378)">&lt;5</text>
<line x1="478.5" y1="371.2" x2="478.5" y2="373.4" stroke="#6e6e6e" stroke-width="0.9"/>
<text x="481.7" y="378" font-size="8.1" fill="#3a3a3a" text-anchor="end" transform="rotate(-45 481.7 378)">10</text>
<line x1="497.7" y1="371.2" x2="497.7" y2="373.4" stroke="#6e6e6e" stroke-width="0.9"/>
<text x="500.9" y="378" font-size="8.1" fill="#3a3a3a" text-anchor="end" transform="rotate(-45 500.9 378)">21</text>
<text x="355.2" y="307.1" font-size="10.6" fill="#111" text-anchor="middle" textLength="106" lengthAdjust="spacing" transform="rotate(-90 355.2 307.1)">Nitrite ( µmol  L hr<tspan dy="-5.2" font-size="7.8">−1</tspan><tspan dy="5.2">  )</tspan></text>
<line x1="391.6" y1="279.9" x2="391.6" y2="296" stroke="#8a8a8a" stroke-width="0.9"/>
<line x1="391.6" y1="324.1" x2="391.6" y2="326.6" stroke="#8a8a8a" stroke-width="0.9"/>
<rect x="386" y="296" width="11.2" height="28.1" fill="#A0044A" stroke="#555" stroke-width="0.8"/>
<line x1="386" y1="302.4" x2="397.2" y2="302.4" stroke="#444" stroke-width="1.0"/>
<circle cx="391.23" cy="279.9" r="1.35" fill="#000"/>
<circle cx="390.98" cy="287" r="1.35" fill="#000"/>
<circle cx="393.29" cy="296" r="1.35" fill="#000"/>
<circle cx="393.61" cy="302" r="1.35" fill="#000"/>
<circle cx="390.06" cy="308" r="1.35" fill="#000"/>
<circle cx="390.18" cy="324" r="1.35" fill="#000"/>
<circle cx="390.42" cy="326.6" r="1.35" fill="#000"/>
<line x1="406.3" y1="276.2" x2="406.3" y2="280.3" stroke="#8a8a8a" stroke-width="0.9"/>
<line x1="406.3" y1="307.9" x2="406.3" y2="312" stroke="#8a8a8a" stroke-width="0.9"/>
<rect x="400.7" y="280.3" width="11.2" height="27.6" fill="#EE6048" stroke="#555" stroke-width="0.8"/>
<line x1="400.7" y1="281.2" x2="411.9" y2="281.2" stroke="#444" stroke-width="1.0"/>
<circle cx="405.13" cy="276.2" r="1.35" fill="#000"/>
<circle cx="406.23" cy="279" r="1.35" fill="#000"/>
<circle cx="406.69" cy="281" r="1.35" fill="#000"/>
<circle cx="405.26" cy="283" r="1.35" fill="#000"/>
<circle cx="404.12" cy="308" r="1.35" fill="#000"/>
<circle cx="405.94" cy="312" r="1.35" fill="#000"/>
<line x1="421" y1="259.4" x2="421" y2="273.5" stroke="#8a8a8a" stroke-width="0.9"/>
<line x1="421" y1="288.5" x2="421" y2="307.5" stroke="#8a8a8a" stroke-width="0.9"/>
<rect x="415.2" y="273.5" width="11.6" height="15" fill="#FDB466" stroke="#555" stroke-width="0.8"/>
<line x1="415.2" y1="285.4" x2="426.8" y2="285.4" stroke="#444" stroke-width="1.0"/>
<circle cx="420.42" cy="259.4" r="1.35" fill="#000"/>
<circle cx="421.29" cy="272" r="1.35" fill="#000"/>
<circle cx="422.99" cy="275" r="1.35" fill="#000"/>
<circle cx="421.84" cy="283" r="1.35" fill="#000"/>
<circle cx="421.07" cy="286" r="1.35" fill="#000"/>
<circle cx="421.52" cy="294" r="1.35" fill="#000"/>
<circle cx="421.78" cy="307.5" r="1.35" fill="#000"/>
<line x1="435.9" y1="302.5" x2="435.9" y2="328.6" stroke="#8a8a8a" stroke-width="0.9"/>
<line x1="435.9" y1="362.3" x2="435.9" y2="364" stroke="#8a8a8a" stroke-width="0.9"/>
<rect x="430.3" y="328.6" width="11.2" height="33.7" fill="#FFFDC0" stroke="#555" stroke-width="0.8"/>
<line x1="430.3" y1="341.9" x2="441.5" y2="341.9" stroke="#444" stroke-width="1.0"/>
<circle cx="433.94" cy="302.5" r="1.35" fill="#000"/>
<circle cx="437.66" cy="323.5" r="1.35" fill="#000"/>
<circle cx="437.13" cy="327.5" r="1.35" fill="#000"/>
<circle cx="437.55" cy="338" r="1.35" fill="#000"/>
<circle cx="437.21" cy="342" r="1.35" fill="#000"/>
<circle cx="435.43" cy="362" r="1.35" fill="#000"/>
<circle cx="435.46" cy="364" r="1.35" fill="#000"/>
<line x1="458.9" y1="249.6" x2="458.9" y2="268.4" stroke="#8a8a8a" stroke-width="0.9"/>
<line x1="458.9" y1="306.1" x2="458.9" y2="357.8" stroke="#8a8a8a" stroke-width="0.9"/>
<rect x="451.5" y="268.4" width="14.8" height="37.7" fill="#C0E59A" stroke="#555" stroke-width="0.8"/>
<line x1="451.5" y1="286.4" x2="466.3" y2="286.4" stroke="#444" stroke-width="1.0"/>
<circle cx="457.16" cy="249.6" r="1.35" fill="#000"/>
<circle cx="459.49" cy="262.5" r="1.35" fill="#000"/>
<circle cx="456.97" cy="268" r="1.35" fill="#000"/>
<circle cx="457" cy="284" r="1.35" fill="#000"/>
<circle cx="457.62" cy="286" r="1.35" fill="#000"/>
<circle cx="457.41" cy="294" r="1.35" fill="#000"/>
<circle cx="458.2" cy="306" r="1.35" fill="#000"/>
<circle cx="456.93" cy="341" r="1.35" fill="#000"/>
<circle cx="456.7" cy="357.8" r="1.35" fill="#000"/>
<line x1="478.5" y1="267.4" x2="478.5" y2="282.3" stroke="#8a8a8a" stroke-width="0.9"/>
<line x1="478.5" y1="357.2" x2="478.5" y2="365.4" stroke="#8a8a8a" stroke-width="0.9"/>
<rect x="471.6" y="282.3" width="13.8" height="74.9" fill="#50ACA8" stroke="#555" stroke-width="0.8"/>
<line x1="471.6" y1="309.2" x2="485.4" y2="309.2" stroke="#444" stroke-width="1.0"/>
<circle cx="476.97" cy="267.4" r="1.35" fill="#000"/>
<circle cx="476.75" cy="281" r="1.35" fill="#000"/>
<circle cx="477.9" cy="283" r="1.35" fill="#000"/>
<circle cx="476.41" cy="303.5" r="1.35" fill="#000"/>
<circle cx="480.15" cy="309" r="1.35" fill="#000"/>
<circle cx="479" cy="354" r="1.35" fill="#000"/>
<circle cx="476.95" cy="356" r="1.35" fill="#000"/>
<circle cx="477.41" cy="364" r="1.35" fill="#000"/>
<circle cx="477.83" cy="365.4" r="1.35" fill="#000"/>
<line x1="497.7" y1="258.2" x2="497.7" y2="286.8" stroke="#8a8a8a" stroke-width="0.9"/>
<line x1="497.7" y1="351.7" x2="497.7" y2="359.9" stroke="#8a8a8a" stroke-width="0.9"/>
<rect x="490.5" y="286.8" width="14.4" height="64.9" fill="#5E4FA3" stroke="#555" stroke-width="0.8"/>
<line x1="490.5" y1="331.7" x2="504.9" y2="331.7" stroke="#444" stroke-width="1.0"/>
<circle cx="497.1" cy="258.2" r="1.35" fill="#000"/>
<circle cx="496.04" cy="281" r="1.35" fill="#000"/>
<circle cx="499.24" cy="286.5" r="1.35" fill="#000"/>
<circle cx="499.87" cy="314" r="1.35" fill="#000"/>
<circle cx="497.55" cy="331" r="1.35" fill="#000"/>
<circle cx="497.63" cy="338" r="1.35" fill="#000"/>
<circle cx="495.88" cy="351" r="1.35" fill="#000"/>
<circle cx="495.95" cy="359.9" r="1.35" fill="#000"/>
<rect x="552.8" y="230.2" width="61.7" height="13.7" fill="#fff" stroke="#4a4a4a" stroke-width="0.9"/>
<text x="583.65" y="240.8" font-size="9.3" fill="#1a1a1a" text-anchor="middle">Switzerland</text>
<rect x="617.1" y="230.2" width="62.2" height="13.7" fill="#fff" stroke="#4a4a4a" stroke-width="0.9"/>
<text x="648.2" y="240.8" font-size="9.3" fill="#1a1a1a" text-anchor="middle">Antarctica</text>
<line x1="552.4" y1="243.9" x2="552.4" y2="371.2" stroke="#6e6e6e" stroke-width="1.0"/>
<line x1="552.4" y1="371.2" x2="613.5" y2="371.2" stroke="#6e6e6e" stroke-width="1.0"/>
<line x1="615.5" y1="371.2" x2="678.9" y2="371.2" stroke="#6e6e6e" stroke-width="1.0"/>
<line x1="550.2" y1="271.1" x2="552.4" y2="271.1" stroke="#6e6e6e" stroke-width="0.9"/>
<text x="548.4" y="273.8" font-size="7.6" fill="#3a3a3a" text-anchor="end">0.100</text>
<line x1="550.2" y1="316" x2="552.4" y2="316" stroke="#6e6e6e" stroke-width="0.9"/>
<text x="548.4" y="318.7" font-size="7.6" fill="#3a3a3a" text-anchor="end">0.010</text>
<line x1="550.2" y1="360.7" x2="552.4" y2="360.7" stroke="#6e6e6e" stroke-width="0.9"/>
<text x="548.4" y="363.4" font-size="7.6" fill="#3a3a3a" text-anchor="end">0.001</text>
<line x1="561.6" y1="371.2" x2="561.6" y2="373.4" stroke="#6e6e6e" stroke-width="0.9"/>
<text x="564.8" y="378" font-size="8.1" fill="#3a3a3a" text-anchor="end" transform="rotate(-45 564.8 378)">0–7</text>
<line x1="576.2" y1="371.2" x2="576.2" y2="373.4" stroke="#6e6e6e" stroke-width="0.9"/>
<text x="579.4" y="378" font-size="8.1" fill="#3a3a3a" text-anchor="end" transform="rotate(-45 579.4 378)">8–27</text>
<line x1="591" y1="371.2" x2="591" y2="373.4" stroke="#6e6e6e" stroke-width="0.9"/>
<text x="594.2" y="378" font-size="8.1" fill="#3a3a3a" text-anchor="end" transform="rotate(-45 594.2 378)">28–57</text>
<line x1="605.8" y1="371.2" x2="605.8" y2="373.4" stroke="#6e6e6e" stroke-width="0.9"/>
<text x="609" y="378" font-size="8.1" fill="#3a3a3a" text-anchor="end" transform="rotate(-45 609 378)">58–127</text>
<line x1="629" y1="371.2" x2="629" y2="373.4" stroke="#6e6e6e" stroke-width="0.9"/>
<text x="632.2" y="378" font-size="8.1" fill="#3a3a3a" text-anchor="end" transform="rotate(-45 632.2 378)">&gt;5</text>
<line x1="648.2" y1="371.2" x2="648.2" y2="373.4" stroke="#6e6e6e" stroke-width="0.9"/>
<text x="651.4" y="378" font-size="8.1" fill="#3a3a3a" text-anchor="end" transform="rotate(-45 651.4 378)">10</text>
<line x1="667.7" y1="371.2" x2="667.7" y2="373.4" stroke="#6e6e6e" stroke-width="0.9"/>
<text x="670.9" y="378" font-size="8.1" fill="#3a3a3a" text-anchor="end" transform="rotate(-45 670.9 378)">21</text>
<text x="523.8" y="304.9" font-size="10.6" fill="#111" text-anchor="middle" textLength="108" lengthAdjust="spacing" transform="rotate(-90 523.8 304.9)">Nitrate ( µmol  L hr<tspan dy="-5.2" font-size="7.8">−1</tspan><tspan dy="5.2">  )</tspan></text>
<line x1="561.6" y1="252.1" x2="561.6" y2="269" stroke="#8a8a8a" stroke-width="0.9"/>
<line x1="561.6" y1="318.4" x2="561.6" y2="320" stroke="#8a8a8a" stroke-width="0.9"/>
<rect x="556.1" y="269" width="11" height="49.4" fill="#A0044A" stroke="#555" stroke-width="0.8"/>
<line x1="556.1" y1="300.3" x2="567.1" y2="300.3" stroke="#444" stroke-width="1.0"/>
<circle cx="560.91" cy="252.1" r="1.35" fill="#000"/>
<circle cx="560.56" cy="266" r="1.35" fill="#000"/>
<circle cx="563.05" cy="269" r="1.35" fill="#000"/>
<circle cx="560.11" cy="291" r="1.35" fill="#000"/>
<circle cx="559.5" cy="300" r="1.35" fill="#000"/>
<circle cx="563.58" cy="302" r="1.35" fill="#000"/>
<circle cx="561.72" cy="318" r="1.35" fill="#000"/>
<circle cx="560.05" cy="320" r="1.35" fill="#000"/>
<line x1="576.2" y1="254.7" x2="576.2" y2="265" stroke="#8a8a8a" stroke-width="0.9"/>
<line x1="576.2" y1="289.9" x2="576.2" y2="302.4" stroke="#8a8a8a" stroke-width="0.9"/>
<rect x="570.6" y="265" width="11.2" height="24.9" fill="#EE6048" stroke="#555" stroke-width="0.8"/>
<line x1="570.6" y1="287" x2="581.8" y2="287" stroke="#444" stroke-width="1.0"/>
<circle cx="576.39" cy="254.7" r="1.35" fill="#000"/>
<circle cx="574.12" cy="262" r="1.35" fill="#000"/>
<circle cx="576.32" cy="265" r="1.35" fill="#000"/>
<circle cx="578.31" cy="279" r="1.35" fill="#000"/>
<circle cx="577.8" cy="287" r="1.35" fill="#000"/>
<circle cx="577.06" cy="289.5" r="1.35" fill="#000"/>
<circle cx="575.15" cy="299" r="1.35" fill="#000"/>
<circle cx="575.61" cy="302.4" r="1.35" fill="#000"/>
<line x1="591" y1="252.7" x2="591" y2="262.9" stroke="#8a8a8a" stroke-width="0.9"/>
<line x1="591" y1="291.5" x2="591" y2="298" stroke="#8a8a8a" stroke-width="0.9"/>
<rect x="585.5" y="262.9" width="11" height="28.6" fill="#FDB466" stroke="#555" stroke-width="0.8"/>
<line x1="585.5" y1="287" x2="596.5" y2="287" stroke="#444" stroke-width="1.0"/>
<circle cx="589.53" cy="252.7" r="1.35" fill="#000"/>
<circle cx="592.2" cy="262.5" r="1.35" fill="#000"/>
<circle cx="591.14" cy="284" r="1.35" fill="#000"/>
<circle cx="592.23" cy="287" r="1.35" fill="#000"/>
<circle cx="590.25" cy="291" r="1.35" fill="#000"/>
<circle cx="589.78" cy="295" r="1.35" fill="#000"/>
<circle cx="592.37" cy="298" r="1.35" fill="#000"/>
<line x1="605.8" y1="249.6" x2="605.8" y2="261.3" stroke="#8a8a8a" stroke-width="0.9"/>
<line x1="605.8" y1="317.1" x2="605.8" y2="318" stroke="#8a8a8a" stroke-width="0.9"/>
<rect x="600.2" y="261.3" width="11.2" height="55.8" fill="#FFFDC0" stroke="#555" stroke-width="0.8"/>
<line x1="600.2" y1="298.3" x2="611.4" y2="298.3" stroke="#444" stroke-width="1.0"/>
<circle cx="607.93" cy="249.6" r="1.35" fill="#000"/>
<circle cx="607.35" cy="261" r="1.35" fill="#000"/>
<circle cx="607.15" cy="294" r="1.35" fill="#000"/>
<circle cx="607.2" cy="298" r="1.35" fill="#000"/>
<circle cx="606.86" cy="317" r="1.35" fill="#000"/>
<circle cx="604.6" cy="318" r="1.35" fill="#000"/>
<line x1="629" y1="286" x2="629" y2="305.2" stroke="#8a8a8a" stroke-width="0.9"/>
<line x1="629" y1="344.6" x2="629" y2="365.4" stroke="#8a8a8a" stroke-width="0.9"/>
<rect x="621.6" y="305.2" width="14.8" height="39.4" fill="#C0E59A" stroke="#555" stroke-width="0.8"/>
<line x1="621.6" y1="327.2" x2="636.4" y2="327.2" stroke="#444" stroke-width="1.0"/>
<circle cx="629.08" cy="286" r="1.35" fill="#000"/>
<circle cx="628.36" cy="287.5" r="1.35" fill="#000"/>
<circle cx="626.93" cy="305" r="1.35" fill="#000"/>
<circle cx="626.92" cy="315" r="1.35" fill="#000"/>
<circle cx="628.03" cy="327" r="1.35" fill="#000"/>
<circle cx="627.94" cy="341" r="1.35" fill="#000"/>
<circle cx="629.85" cy="344" r="1.35" fill="#000"/>
<circle cx="631.01" cy="365" r="1.35" fill="#000"/>
<line x1="648.2" y1="276.2" x2="648.2" y2="281.7" stroke="#8a8a8a" stroke-width="0.9"/>
<line x1="648.2" y1="338.2" x2="648.2" y2="342.9" stroke="#8a8a8a" stroke-width="0.9"/>
<rect x="641" y="281.7" width="14.4" height="56.5" fill="#50ACA8" stroke="#555" stroke-width="0.8"/>
<line x1="641" y1="299.3" x2="655.4" y2="299.3" stroke="#444" stroke-width="1.0"/>
<circle cx="647.97" cy="276.2" r="1.35" fill="#000"/>
<circle cx="650.12" cy="278" r="1.35" fill="#000"/>
<circle cx="650.35" cy="281" r="1.35" fill="#000"/>
<circle cx="650.2" cy="286" r="1.35" fill="#000"/>
<circle cx="647.6" cy="299" r="1.35" fill="#000"/>
<circle cx="646.97" cy="309" r="1.35" fill="#000"/>
<circle cx="647" cy="338" r="1.35" fill="#000"/>
<circle cx="646.87" cy="342.9" r="1.35" fill="#000"/>
<line x1="667.7" y1="252.7" x2="667.7" y2="257.4" stroke="#8a8a8a" stroke-width="0.9"/>
<line x1="667.7" y1="277.2" x2="667.7" y2="287.4" stroke="#8a8a8a" stroke-width="0.9"/>
<rect x="660.5" y="257.4" width="14.4" height="19.8" fill="#5E4FA3" stroke="#555" stroke-width="0.8"/>
<line x1="660.5" y1="265.4" x2="674.9" y2="265.4" stroke="#444" stroke-width="1.0"/>
<circle cx="666.4" cy="252.7" r="1.35" fill="#000"/>
<circle cx="668.25" cy="254" r="1.35" fill="#000"/>
<circle cx="669.46" cy="258" r="1.35" fill="#000"/>
<circle cx="669.2" cy="262" r="1.35" fill="#000"/>
<circle cx="667.61" cy="265" r="1.35" fill="#000"/>
<circle cx="668.37" cy="276" r="1.35" fill="#000"/>
<circle cx="669.02" cy="280" r="1.35" fill="#000"/>
<circle cx="665.87" cy="287.4" r="1.35" fill="#000"/>
<text x="357.8" y="409.2" font-size="10.6" fill="#1a1a1a" text-anchor="middle">Soil age (yrs)</text>
<text x="5.4" y="431" font-size="27" fill="#000" font-weight="bold">d</text>
<rect x="47" y="417.4" width="64.7" height="15.2" fill="#fff" stroke="#1a1a1a" stroke-width="1.2"/>
<text x="79.35" y="428.8" font-size="10.7" fill="#1a1a1a" text-anchor="middle">0-7</text>
<rect x="115.2" y="417.4" width="64.6" height="15.2" fill="#fff" stroke="#1a1a1a" stroke-width="1.2"/>
<text x="147.5" y="428.8" font-size="10.7" fill="#1a1a1a" text-anchor="middle">8-27</text>
<rect x="183.3" y="417.4" width="64.5" height="15.2" fill="#fff" stroke="#1a1a1a" stroke-width="1.2"/>
<text x="215.55" y="428.8" font-size="10.7" fill="#1a1a1a" text-anchor="middle">28-57</text>
<rect x="251.3" y="417.4" width="64.4" height="15.2" fill="#fff" stroke="#1a1a1a" stroke-width="1.2"/>
<text x="283.5" y="428.8" font-size="10.7" fill="#1a1a1a" text-anchor="middle">58-127</text>
<line x1="47" y1="432.6" x2="47" y2="575" stroke="#777" stroke-width="1.1"/>
<line x1="44.6" y1="438.9" x2="47" y2="438.9" stroke="#555" stroke-width="0.9"/>
<text x="43.6" y="441.9" font-size="8.5" fill="#222" text-anchor="end">10.00</text>
<line x1="44.6" y1="482" x2="47" y2="482" stroke="#555" stroke-width="0.9"/>
<text x="43.6" y="485" font-size="8.5" fill="#222" text-anchor="end">1.00</text>
<line x1="44.6" y1="525.3" x2="47" y2="525.3" stroke="#555" stroke-width="0.9"/>
<text x="43.6" y="528.3" font-size="8.5" fill="#222" text-anchor="end">0.10</text>
<line x1="44.6" y1="568.3" x2="47" y2="568.3" stroke="#555" stroke-width="0.9"/>
<text x="43.6" y="571.3" font-size="8.5" fill="#222" text-anchor="end">0.01</text>
<text x="17.6" y="503.7" font-size="10.8" fill="#1a1a1a" text-anchor="middle" transform="rotate(-90 17.6 503.7)">Concentration (ppmv.)</text>
<line x1="47" y1="575" x2="111.7" y2="575" stroke="#777" stroke-width="1.1"/>
<line x1="50.3" y1="575" x2="50.3" y2="577.3" stroke="#555" stroke-width="0.9"/>
<text x="52.9" y="581.4" font-size="8.5" fill="#222" text-anchor="end" transform="rotate(-45 52.9 581.4)">0.00</text>
<line x1="64.98" y1="575" x2="64.98" y2="577.3" stroke="#555" stroke-width="0.9"/>
<text x="67.58" y="581.4" font-size="8.5" fill="#222" text-anchor="end" transform="rotate(-45 67.58 581.4)">0.25</text>
<line x1="79.66" y1="575" x2="79.66" y2="577.3" stroke="#555" stroke-width="0.9"/>
<text x="82.26" y="581.4" font-size="8.5" fill="#222" text-anchor="end" transform="rotate(-45 82.26 581.4)">0.50</text>
<line x1="94.34" y1="575" x2="94.34" y2="577.3" stroke="#555" stroke-width="0.9"/>
<text x="96.94" y="581.4" font-size="8.5" fill="#222" text-anchor="end" transform="rotate(-45 96.94 581.4)">0.75</text>
<line x1="109.02" y1="575" x2="109.02" y2="577.3" stroke="#555" stroke-width="0.9"/>
<text x="111.62" y="581.4" font-size="8.5" fill="#222" text-anchor="end" transform="rotate(-45 111.62 581.4)">1.00</text>
<line x1="47.6" y1="470.3" x2="111.7" y2="470.3" stroke="#2F80BE" stroke-width="1.1" stroke-dasharray="3.6,2.2"/>
<line x1="47.6" y1="494" x2="111.7" y2="494" stroke="#E21E26" stroke-width="1.1" stroke-dasharray="3.6,2.2" stroke-opacity="0.85"/>
<line x1="47.6" y1="525.3" x2="111.7" y2="525.3" stroke="#D6C48B" stroke-width="1.0" stroke-dasharray="3.6,2.2"/>
<line x1="115.2" y1="575" x2="179.8" y2="575" stroke="#777" stroke-width="1.1"/>
<line x1="118.5" y1="575" x2="118.5" y2="577.3" stroke="#555" stroke-width="0.9"/>
<text x="121.1" y="581.4" font-size="8.5" fill="#222" text-anchor="end" transform="rotate(-45 121.1 581.4)">0.00</text>
<line x1="133.18" y1="575" x2="133.18" y2="577.3" stroke="#555" stroke-width="0.9"/>
<text x="135.78" y="581.4" font-size="8.5" fill="#222" text-anchor="end" transform="rotate(-45 135.78 581.4)">0.25</text>
<line x1="147.86" y1="575" x2="147.86" y2="577.3" stroke="#555" stroke-width="0.9"/>
<text x="150.46" y="581.4" font-size="8.5" fill="#222" text-anchor="end" transform="rotate(-45 150.46 581.4)">0.50</text>
<line x1="162.54" y1="575" x2="162.54" y2="577.3" stroke="#555" stroke-width="0.9"/>
<text x="165.14" y="581.4" font-size="8.5" fill="#222" text-anchor="end" transform="rotate(-45 165.14 581.4)">0.75</text>
<line x1="177.22" y1="575" x2="177.22" y2="577.3" stroke="#555" stroke-width="0.9"/>
<text x="179.82" y="581.4" font-size="8.5" fill="#222" text-anchor="end" transform="rotate(-45 179.82 581.4)">1.00</text>
<line x1="115.8" y1="470.3" x2="179.8" y2="470.3" stroke="#2F80BE" stroke-width="1.1" stroke-dasharray="3.6,2.2"/>
<line x1="115.8" y1="494" x2="179.8" y2="494" stroke="#E21E26" stroke-width="1.1" stroke-dasharray="3.6,2.2" stroke-opacity="0.85"/>
<line x1="115.8" y1="525.3" x2="179.8" y2="525.3" stroke="#D6C48B" stroke-width="1.0" stroke-dasharray="3.6,2.2"/>
<line x1="183.3" y1="575" x2="247.8" y2="575" stroke="#777" stroke-width="1.1"/>
<line x1="186.6" y1="575" x2="186.6" y2="577.3" stroke="#555" stroke-width="0.9"/>
<text x="189.2" y="581.4" font-size="8.5" fill="#222" text-anchor="end" transform="rotate(-45 189.2 581.4)">0.00</text>
<line x1="201.28" y1="575" x2="201.28" y2="577.3" stroke="#555" stroke-width="0.9"/>
<text x="203.88" y="581.4" font-size="8.5" fill="#222" text-anchor="end" transform="rotate(-45 203.88 581.4)">0.25</text>
<line x1="215.96" y1="575" x2="215.96" y2="577.3" stroke="#555" stroke-width="0.9"/>
<text x="218.56" y="581.4" font-size="8.5" fill="#222" text-anchor="end" transform="rotate(-45 218.56 581.4)">0.50</text>
<line x1="230.64" y1="575" x2="230.64" y2="577.3" stroke="#555" stroke-width="0.9"/>
<text x="233.24" y="581.4" font-size="8.5" fill="#222" text-anchor="end" transform="rotate(-45 233.24 581.4)">0.75</text>
<line x1="245.32" y1="575" x2="245.32" y2="577.3" stroke="#555" stroke-width="0.9"/>
<text x="247.92" y="581.4" font-size="8.5" fill="#222" text-anchor="end" transform="rotate(-45 247.92 581.4)">1.00</text>
<line x1="183.9" y1="470.3" x2="247.8" y2="470.3" stroke="#2F80BE" stroke-width="1.1" stroke-dasharray="3.6,2.2"/>
<line x1="183.9" y1="494" x2="247.8" y2="494" stroke="#E21E26" stroke-width="1.1" stroke-dasharray="3.6,2.2" stroke-opacity="0.85"/>
<line x1="183.9" y1="525.3" x2="247.8" y2="525.3" stroke="#D6C48B" stroke-width="1.0" stroke-dasharray="3.6,2.2"/>
<line x1="251.3" y1="575" x2="315.7" y2="575" stroke="#777" stroke-width="1.1"/>
<line x1="254.6" y1="575" x2="254.6" y2="577.3" stroke="#555" stroke-width="0.9"/>
<text x="257.2" y="581.4" font-size="8.5" fill="#222" text-anchor="end" transform="rotate(-45 257.2 581.4)">0.00</text>
<line x1="269.28" y1="575" x2="269.28" y2="577.3" stroke="#555" stroke-width="0.9"/>
<text x="271.88" y="581.4" font-size="8.5" fill="#222" text-anchor="end" transform="rotate(-45 271.88 581.4)">0.25</text>
<line x1="283.96" y1="575" x2="283.96" y2="577.3" stroke="#555" stroke-width="0.9"/>
<text x="286.56" y="581.4" font-size="8.5" fill="#222" text-anchor="end" transform="rotate(-45 286.56 581.4)">0.50</text>
<line x1="298.64" y1="575" x2="298.64" y2="577.3" stroke="#555" stroke-width="0.9"/>
<text x="301.24" y="581.4" font-size="8.5" fill="#222" text-anchor="end" transform="rotate(-45 301.24 581.4)">0.75</text>
<line x1="313.32" y1="575" x2="313.32" y2="577.3" stroke="#555" stroke-width="0.9"/>
<text x="315.92" y="581.4" font-size="8.5" fill="#222" text-anchor="end" transform="rotate(-45 315.92 581.4)">1.00</text>
<line x1="251.9" y1="470.3" x2="315.7" y2="470.3" stroke="#2F80BE" stroke-width="1.1" stroke-dasharray="3.6,2.2"/>
<line x1="251.9" y1="494" x2="315.7" y2="494" stroke="#E21E26" stroke-width="1.1" stroke-dasharray="3.6,2.2" stroke-opacity="0.85"/>
<line x1="251.9" y1="525.3" x2="315.7" y2="525.3" stroke="#D6C48B" stroke-width="1.0" stroke-dasharray="3.6,2.2"/>
<text x="175" y="613.9" font-size="10.6" fill="#1a1a1a" text-anchor="middle">Depth (m)</text>
<path d="M50.3,504.2 L54.7,510.05 L59.1,515.49 L63.51,520.54 L67.91,525.18 L72.31,529.42 L76.72,533.25 L81.12,536.68 L85.52,539.71 L89.92,542.34 L94.32,544.56 L98.73,546.38 L103.13,547.8 L103.13,568.8 L98.73,562.87 L94.32,557.34 L89.92,552.21 L85.52,547.49 L81.12,543.17 L76.72,539.25 L72.31,535.73 L67.91,532.62 L63.51,529.91 L59.1,527.61 L54.7,525.7 L50.3,524.2Z" fill="#999" fill-opacity="0.38"/>
<path d="M50.3,517.8 L54.7,518.07 L59.1,518.18 L63.51,518.14 L67.91,517.93 L72.31,517.57 L76.72,517.05 L81.12,516.37 L85.52,515.53 L89.92,514.54 L94.32,513.38 L98.73,512.07 L103.13,510.6 L103.13,521.8 L98.73,521.35 L94.32,521.05 L89.92,520.91 L85.52,520.93 L81.12,521.11 L76.72,521.45 L72.31,521.95 L67.91,522.6 L63.51,523.41 L59.1,524.38 L54.7,525.51 L50.3,526.8Z" fill="#999" fill-opacity="0.38"/>
<path d="M50.3,468.1 L54.7,468.79 L59.1,469.42 L63.51,470 L67.91,470.52 L72.31,470.99 L76.72,471.4 L81.12,471.76 L85.52,472.06 L89.92,472.3 L94.32,472.49 L98.73,472.62 L103.13,472.7 L103.13,475.9 L98.73,475.21 L94.32,474.58 L89.92,474 L85.52,473.48 L81.12,473.01 L76.72,472.6 L72.31,472.24 L67.91,471.94 L63.51,471.7 L59.1,471.51 L54.7,471.38 L50.3,471.3Z" fill="#999" fill-opacity="0.38"/>
<circle cx="74.2" cy="502.64" r="1.6" fill="#DCCB93" fill-opacity="0.65"/>
<circle cx="74.9" cy="512.79" r="1.6" fill="#DCCB93" fill-opacity="0.65"/>
<circle cx="77.13" cy="514.84" r="1.6" fill="#DCCB93" fill-opacity="0.65"/>
<circle cx="77.34" cy="516.51" r="1.6" fill="#DCCB93" fill-opacity="0.65"/>
<circle cx="83.58" cy="519.41" r="1.6" fill="#DCCB93" fill-opacity="0.65"/>
<circle cx="66.33" cy="517.02" r="1.6" fill="#DCCB93" fill-opacity="0.65"/>
<circle cx="55.09" cy="526.25" r="1.6" fill="#DCCB93" fill-opacity="0.65"/>
<circle cx="52.51" cy="510.6" r="1.6" fill="#DCCB93" fill-opacity="0.65"/>
<circle cx="102.19" cy="527.68" r="1.6" fill="#DCCB93" fill-opacity="0.65"/>
<circle cx="82.82" cy="515.99" r="1.6" fill="#DCCB93" fill-opacity="0.65"/>
<circle cx="58.62" cy="531.1" r="1.6" fill="#DCCB93" fill-opacity="0.65"/>
<circle cx="53.45" cy="522.86" r="1.6" fill="#DCCB93" fill-opacity="0.65"/>
<circle cx="60.35" cy="521.24" r="1.6" fill="#DCCB93" fill-opacity="0.65"/>
<circle cx="74.81" cy="521.44" r="1.6" fill="#DCCB93" fill-opacity="0.65"/>
<circle cx="73.57" cy="524.92" r="1.6" fill="#DCCB93" fill-opacity="0.65"/>
<circle cx="84.13" cy="510.3" r="1.6" fill="#DCCB93" fill-opacity="0.65"/>
<circle cx="76.7" cy="514.63" r="1.6" fill="#DCCB93" fill-opacity="0.65"/>
<circle cx="65" cy="513.06" r="1.6" fill="#DCCB93" fill-opacity="0.65"/>
<circle cx="103.01" cy="531.53" r="1.6" fill="#DCCB93" fill-opacity="0.65"/>
<circle cx="87.69" cy="517.57" r="1.6" fill="#DCCB93" fill-opacity="0.65"/>
<circle cx="66.96" cy="521.22" r="1.6" fill="#DCCB93" fill-opacity="0.65"/>
<circle cx="54.01" cy="528.43" r="1.6" fill="#DCCB93" fill-opacity="0.65"/>
<circle cx="90.78" cy="505.07" r="1.6" fill="#DCCB93" fill-opacity="0.65"/>
<circle cx="70.72" cy="529.02" r="1.6" fill="#DCCB93" fill-opacity="0.65"/>
<circle cx="100.91" cy="516.61" r="1.6" fill="#DCCB93" fill-opacity="0.65"/>
<circle cx="61.38" cy="520.8" r="1.6" fill="#DCCB93" fill-opacity="0.65"/>
<circle cx="98.39" cy="526.8" r="1.6" fill="#E5343A" fill-opacity="0.62"/>
<circle cx="71.3" cy="536.98" r="1.6" fill="#E5343A" fill-opacity="0.62"/>
<circle cx="54.16" cy="505.49" r="1.6" fill="#E5343A" fill-opacity="0.62"/>
<circle cx="64.55" cy="513.48" r="1.6" fill="#E5343A" fill-opacity="0.62"/>
<circle cx="54.9" cy="505.25" r="1.6" fill="#E5343A" fill-opacity="0.62"/>
<circle cx="90.35" cy="570.03" r="1.6" fill="#E5343A" fill-opacity="0.62"/>
<circle cx="56.53" cy="519.51" r="1.6" fill="#E5343A" fill-opacity="0.62"/>
<circle cx="53.46" cy="521.46" r="1.6" fill="#E5343A" fill-opacity="0.62"/>
<circle cx="92.41" cy="554.97" r="1.6" fill="#E5343A" fill-opacity="0.62"/>
<circle cx="73.94" cy="545.43" r="1.6" fill="#E5343A" fill-opacity="0.62"/>
<circle cx="60.37" cy="522.01" r="1.6" fill="#E5343A" fill-opacity="0.62"/>
<circle cx="84.31" cy="537.32" r="1.6" fill="#E5343A" fill-opacity="0.62"/>
<circle cx="56.46" cy="513.26" r="1.6" fill="#E5343A" fill-opacity="0.62"/>
<circle cx="64.55" cy="529.4" r="1.6" fill="#E5343A" fill-opacity="0.62"/>
<circle cx="101.59" cy="559.82" r="1.6" fill="#E5343A" fill-opacity="0.62"/>
<circle cx="97.05" cy="545.18" r="1.6" fill="#E5343A" fill-opacity="0.62"/>
<circle cx="61.43" cy="508.04" r="1.6" fill="#E5343A" fill-opacity="0.62"/>
<circle cx="84.21" cy="554.61" r="1.6" fill="#E5343A" fill-opacity="0.62"/>
<circle cx="55.6" cy="525.53" r="1.6" fill="#E5343A" fill-opacity="0.62"/>
<circle cx="63.94" cy="525.12" r="1.6" fill="#E5343A" fill-opacity="0.62"/>
<circle cx="91.12" cy="544.29" r="1.6" fill="#E5343A" fill-opacity="0.62"/>
<circle cx="54.18" cy="524.81" r="1.6" fill="#E5343A" fill-opacity="0.62"/>
<circle cx="55.06" cy="511.7" r="1.6" fill="#E5343A" fill-opacity="0.62"/>
<circle cx="82.07" cy="537.01" r="1.6" fill="#E5343A" fill-opacity="0.62"/>
<circle cx="69.94" cy="506.39" r="1.6" fill="#E5343A" fill-opacity="0.62"/>
<circle cx="75.86" cy="542.86" r="1.6" fill="#E5343A" fill-opacity="0.62"/>
<circle cx="80.65" cy="473.19" r="1.6" fill="#3D8BC6" fill-opacity="0.62"/>
<circle cx="58.44" cy="469.46" r="1.6" fill="#3D8BC6" fill-opacity="0.62"/>
<circle cx="98.29" cy="474.5" r="1.6" fill="#3D8BC6" fill-opacity="0.62"/>
<circle cx="60.33" cy="469.19" r="1.6" fill="#3D8BC6" fill-opacity="0.62"/>
<circle cx="89.36" cy="474.33" r="1.6" fill="#3D8BC6" fill-opacity="0.62"/>
<circle cx="100.5" cy="473.59" r="1.6" fill="#3D8BC6" fill-opacity="0.62"/>
<circle cx="96.91" cy="472.09" r="1.6" fill="#3D8BC6" fill-opacity="0.62"/>
<circle cx="55.79" cy="468.91" r="1.6" fill="#3D8BC6" fill-opacity="0.62"/>
<circle cx="52.34" cy="471.31" r="1.6" fill="#3D8BC6" fill-opacity="0.62"/>
<circle cx="87.52" cy="472.6" r="1.6" fill="#3D8BC6" fill-opacity="0.62"/>
<circle cx="63.88" cy="472.09" r="1.6" fill="#3D8BC6" fill-opacity="0.62"/>
<circle cx="65.8" cy="468.64" r="1.6" fill="#3D8BC6" fill-opacity="0.62"/>
<circle cx="59.57" cy="470.37" r="1.6" fill="#3D8BC6" fill-opacity="0.62"/>
<circle cx="62.37" cy="470.01" r="1.6" fill="#3D8BC6" fill-opacity="0.62"/>
<circle cx="79.85" cy="473.93" r="1.6" fill="#3D8BC6" fill-opacity="0.62"/>
<circle cx="65.1" cy="468.78" r="1.6" fill="#3D8BC6" fill-opacity="0.62"/>
<circle cx="98.76" cy="474.02" r="1.6" fill="#3D8BC6" fill-opacity="0.62"/>
<circle cx="64.52" cy="471.29" r="1.6" fill="#3D8BC6" fill-opacity="0.62"/>
<circle cx="73.85" cy="472.91" r="1.6" fill="#3D8BC6" fill-opacity="0.62"/>
<circle cx="69.78" cy="471.86" r="1.6" fill="#3D8BC6" fill-opacity="0.62"/>
<circle cx="80.53" cy="473.62" r="1.6" fill="#3D8BC6" fill-opacity="0.62"/>
<circle cx="97.37" cy="475.19" r="1.6" fill="#3D8BC6" fill-opacity="0.62"/>
<circle cx="102.1" cy="472.52" r="1.6" fill="#3D8BC6" fill-opacity="0.62"/>
<circle cx="81.18" cy="469.83" r="1.6" fill="#3D8BC6" fill-opacity="0.62"/>
<circle cx="57.71" cy="470.72" r="1.6" fill="#3D8BC6" fill-opacity="0.62"/>
<circle cx="98.39" cy="473.97" r="1.6" fill="#3D8BC6" fill-opacity="0.62"/>
<circle cx="87.33" cy="473.33" r="1.6" fill="#3D8BC6" fill-opacity="0.62"/>
<circle cx="83.91" cy="472.53" r="1.6" fill="#3D8BC6" fill-opacity="0.62"/>
<circle cx="75.78" cy="471.7" r="1.6" fill="#3D8BC6" fill-opacity="0.62"/>
<circle cx="103.1" cy="472.56" r="1.6" fill="#3D8BC6" fill-opacity="0.62"/>
<circle cx="54.28" cy="466.91" r="1.6" fill="#3D8BC6" fill-opacity="0.62"/>
<circle cx="97.86" cy="472.91" r="1.6" fill="#3D8BC6" fill-opacity="0.62"/>
<circle cx="89.24" cy="472.07" r="1.6" fill="#3D8BC6" fill-opacity="0.62"/>
<circle cx="98.64" cy="470.51" r="1.6" fill="#3D8BC6" fill-opacity="0.62"/>
<circle cx="68.89" cy="469.61" r="1.6" fill="#3D8BC6" fill-opacity="0.62"/>
<circle cx="96.32" cy="469.76" r="1.6" fill="#3D8BC6" fill-opacity="0.62"/>
<circle cx="72.34" cy="472.62" r="1.6" fill="#3D8BC6" fill-opacity="0.62"/>
<circle cx="80.56" cy="468.47" r="1.6" fill="#3D8BC6" fill-opacity="0.62"/>
<circle cx="83.32" cy="470.62" r="1.6" fill="#3D8BC6" fill-opacity="0.62"/>
<circle cx="82.47" cy="474.28" r="1.6" fill="#3D8BC6" fill-opacity="0.62"/>
<circle cx="54.54" cy="466.02" r="1.6" fill="#3D8BC6" fill-opacity="0.62"/>
<circle cx="96.78" cy="468.88" r="1.6" fill="#3D8BC6" fill-opacity="0.62"/>
<circle cx="50.8" cy="495.5" r="1.9" fill="#E5343A" fill-opacity="0.8"/>
<circle cx="50.8" cy="470.8" r="1.8" fill="#3D8BC6" fill-opacity="0.7"/>
<line x1="50.3" y1="522.3" x2="103.13" y2="516.2" stroke="#D4C27E" stroke-width="1.6"/>
<line x1="50.3" y1="514.2" x2="103.13" y2="558.3" stroke="#D7191C" stroke-width="1.6"/>
<line x1="50.3" y1="469.7" x2="103.13" y2="474.3" stroke="#2B7BBA" stroke-width="1.6"/>
<path d="M118.5,507.1 L122.9,510.9 L127.31,514.42 L131.71,517.64 L136.11,520.57 L140.51,523.2 L144.92,525.55 L149.32,527.6 L153.72,529.37 L158.12,530.84 L162.53,532.02 L166.93,532.9 L171.33,533.5 L171.33,550.5 L166.93,546.28 L162.53,542.35 L158.12,538.71 L153.72,535.37 L149.32,532.31 L144.92,529.55 L140.51,527.08 L136.11,524.9 L131.71,523.01 L127.31,521.42 L122.9,520.11 L118.5,519.1Z" fill="#999" fill-opacity="0.38"/>
<path d="M118.5,495.6 L122.9,495.91 L127.31,496.16 L131.71,496.35 L136.11,496.49 L140.51,496.57 L144.92,496.6 L149.32,496.57 L153.72,496.49 L158.12,496.35 L162.53,496.16 L166.93,495.91 L171.33,495.6 L171.33,499.6 L166.93,499.29 L162.53,499.04 L158.12,498.85 L153.72,498.71 L149.32,498.63 L144.92,498.6 L140.51,498.63 L136.11,498.71 L131.71,498.85 L127.31,499.04 L122.9,499.29 L118.5,499.6Z" fill="#999" fill-opacity="0.38"/>
<path d="M118.5,467.4 L122.9,470.09 L127.31,472.69 L131.71,475.23 L136.11,477.68 L140.51,480.05 L144.92,482.35 L149.32,484.57 L153.72,486.71 L158.12,488.78 L162.53,490.76 L166.93,492.67 L171.33,494.5 L171.33,498.9 L166.93,496.21 L162.53,493.61 L158.12,491.07 L153.72,488.62 L149.32,486.25 L144.92,483.95 L140.51,481.73 L136.11,479.59 L131.71,477.52 L127.31,475.54 L122.9,473.63 L118.5,471.8Z" fill="#999" fill-opacity="0.38"/>
<circle cx="156.97" cy="492" r="1.6" fill="#DCCB93" fill-opacity="0.65"/>
<circle cx="149.19" cy="502.33" r="1.6" fill="#DCCB93" fill-opacity="0.65"/>
<circle cx="141.77" cy="498.59" r="1.6" fill="#DCCB93" fill-opacity="0.65"/>
<circle cx="158.13" cy="496" r="1.6" fill="#DCCB93" fill-opacity="0.65"/>
<circle cx="120.07" cy="493.46" r="1.6" fill="#DCCB93" fill-opacity="0.65"/>
<circle cx="130.66" cy="494.54" r="1.6" fill="#DCCB93" fill-opacity="0.65"/>
<circle cx="155.39" cy="491.39" r="1.6" fill="#DCCB93" fill-opacity="0.65"/>
<circle cx="167.13" cy="497.71" r="1.6" fill="#DCCB93" fill-opacity="0.65"/>
<circle cx="132.02" cy="501.4" r="1.6" fill="#DCCB93" fill-opacity="0.65"/>
<circle cx="154.33" cy="497.87" r="1.6" fill="#DCCB93" fill-opacity="0.65"/>
<circle cx="129.2" cy="502.33" r="1.6" fill="#DCCB93" fill-opacity="0.65"/>
<circle cx="153.37" cy="506.16" r="1.6" fill="#DCCB93" fill-opacity="0.65"/>
<circle cx="141.85" cy="500.71" r="1.6" fill="#DCCB93" fill-opacity="0.65"/>
<circle cx="153.68" cy="495.08" r="1.6" fill="#DCCB93" fill-opacity="0.65"/>
<circle cx="128.99" cy="490.21" r="1.6" fill="#DCCB93" fill-opacity="0.65"/>
<circle cx="166.8" cy="501.03" r="1.6" fill="#DCCB93" fill-opacity="0.65"/>
<circle cx="165" cy="493.15" r="1.6" fill="#DCCB93" fill-opacity="0.65"/>
<circle cx="135.22" cy="501.55" r="1.6" fill="#DCCB93" fill-opacity="0.65"/>
<circle cx="125.69" cy="489.03" r="1.6" fill="#DCCB93" fill-opacity="0.65"/>
<circle cx="163.34" cy="497.79" r="1.6" fill="#DCCB93" fill-opacity="0.65"/>
<circle cx="156.07" cy="501.05" r="1.6" fill="#DCCB93" fill-opacity="0.65"/>
<circle cx="127.44" cy="496.48" r="1.6" fill="#DCCB93" fill-opacity="0.65"/>
<circle cx="142.31" cy="497.11" r="1.6" fill="#DCCB93" fill-opacity="0.65"/>
<circle cx="140.37" cy="500.68" r="1.6" fill="#DCCB93" fill-opacity="0.65"/>
<circle cx="151.56" cy="493.69" r="1.6" fill="#DCCB93" fill-opacity="0.65"/>
<circle cx="162.83" cy="497.75" r="1.6" fill="#DCCB93" fill-opacity="0.65"/>
<circle cx="170.38" cy="495.91" r="1.6" fill="#DCCB93" fill-opacity="0.65"/>
<circle cx="120.16" cy="498.12" r="1.6" fill="#DCCB93" fill-opacity="0.65"/>
<circle cx="164.61" cy="504.43" r="1.6" fill="#DCCB93" fill-opacity="0.65"/>
<circle cx="148.64" cy="499.42" r="1.6" fill="#DCCB93" fill-opacity="0.65"/>
<circle cx="134.83" cy="497.83" r="1.6" fill="#DCCB93" fill-opacity="0.65"/>
<circle cx="125.68" cy="496.75" r="1.6" fill="#DCCB93" fill-opacity="0.65"/>
<circle cx="142.53" cy="505.96" r="1.6" fill="#DCCB93" fill-opacity="0.65"/>
<circle cx="131.04" cy="498.91" r="1.6" fill="#DCCB93" fill-opacity="0.65"/>
<circle cx="125.94" cy="503.66" r="1.6" fill="#DCCB93" fill-opacity="0.65"/>
<circle cx="142.09" cy="499.44" r="1.6" fill="#DCCB93" fill-opacity="0.65"/>
<circle cx="151.78" cy="525.19" r="1.6" fill="#E5343A" fill-opacity="0.62"/>
<circle cx="169.14" cy="531.79" r="1.6" fill="#E5343A" fill-opacity="0.62"/>
<circle cx="154.66" cy="535.01" r="1.6" fill="#E5343A" fill-opacity="0.62"/>
<circle cx="127.94" cy="524.73" r="1.6" fill="#E5343A" fill-opacity="0.62"/>
<circle cx="119.07" cy="504.06" r="1.6" fill="#E5343A" fill-opacity="0.62"/>
<circle cx="127.96" cy="519.93" r="1.6" fill="#E5343A" fill-opacity="0.62"/>
<circle cx="132.89" cy="515.72" r="1.6" fill="#E5343A" fill-opacity="0.62"/>
<circle cx="145.99" cy="535.79" r="1.6" fill="#E5343A" fill-opacity="0.62"/>
<circle cx="150.96" cy="531.09" r="1.6" fill="#E5343A" fill-opacity="0.62"/>
<circle cx="160.34" cy="529.99" r="1.6" fill="#E5343A" fill-opacity="0.62"/>
<circle cx="166.38" cy="551.19" r="1.6" fill="#E5343A" fill-opacity="0.62"/>
<circle cx="156.66" cy="541.24" r="1.6" fill="#E5343A" fill-opacity="0.62"/>
<circle cx="125.36" cy="508.8" r="1.6" fill="#E5343A" fill-opacity="0.62"/>
<circle cx="166.57" cy="541.82" r="1.6" fill="#E5343A" fill-opacity="0.62"/>
<circle cx="138.41" cy="512.79" r="1.6" fill="#E5343A" fill-opacity="0.62"/>
<circle cx="160.59" cy="530.96" r="1.6" fill="#E5343A" fill-opacity="0.62"/>
<circle cx="168.39" cy="531.9" r="1.6" fill="#E5343A" fill-opacity="0.62"/>
<circle cx="129.32" cy="520.99" r="1.6" fill="#E5343A" fill-opacity="0.62"/>
<circle cx="156.64" cy="537.54" r="1.6" fill="#E5343A" fill-opacity="0.62"/>
<circle cx="156.41" cy="526.03" r="1.6" fill="#E5343A" fill-opacity="0.62"/>
<circle cx="129.77" cy="532.88" r="1.6" fill="#E5343A" fill-opacity="0.62"/>
<circle cx="170.13" cy="531.45" r="1.6" fill="#E5343A" fill-opacity="0.62"/>
<circle cx="146.87" cy="529.95" r="1.6" fill="#E5343A" fill-opacity="0.62"/>
<circle cx="166.57" cy="534.3" r="1.6" fill="#E5343A" fill-opacity="0.62"/>
<circle cx="163.71" cy="536.39" r="1.6" fill="#E5343A" fill-opacity="0.62"/>
<circle cx="141.79" cy="527.87" r="1.6" fill="#E5343A" fill-opacity="0.62"/>
<circle cx="147.57" cy="529.8" r="1.6" fill="#E5343A" fill-opacity="0.62"/>
<circle cx="120" cy="507.03" r="1.6" fill="#E5343A" fill-opacity="0.62"/>
<circle cx="161.25" cy="546.39" r="1.6" fill="#E5343A" fill-opacity="0.62"/>
<circle cx="127.63" cy="522.31" r="1.6" fill="#E5343A" fill-opacity="0.62"/>
<circle cx="136.2" cy="523.56" r="1.6" fill="#E5343A" fill-opacity="0.62"/>
<circle cx="126.35" cy="514.19" r="1.6" fill="#E5343A" fill-opacity="0.62"/>
<circle cx="145.79" cy="526.13" r="1.6" fill="#E5343A" fill-opacity="0.62"/>
<circle cx="154.92" cy="521.69" r="1.6" fill="#E5343A" fill-opacity="0.62"/>
<circle cx="168.46" cy="525.8" r="1.6" fill="#E5343A" fill-opacity="0.62"/>
<circle cx="123.04" cy="516.27" r="1.6" fill="#E5343A" fill-opacity="0.62"/>
<circle cx="130.2" cy="473.48" r="1.6" fill="#3D8BC6" fill-opacity="0.62"/>
<circle cx="157" cy="488.99" r="1.6" fill="#3D8BC6" fill-opacity="0.62"/>
<circle cx="152.25" cy="481.96" r="1.6" fill="#3D8BC6" fill-opacity="0.62"/>
<circle cx="148.08" cy="484.06" r="1.6" fill="#3D8BC6" fill-opacity="0.62"/>
<circle cx="134.97" cy="474.36" r="1.6" fill="#3D8BC6" fill-opacity="0.62"/>
<circle cx="166.07" cy="497.41" r="1.6" fill="#3D8BC6" fill-opacity="0.62"/>
<circle cx="129.5" cy="479.29" r="1.6" fill="#3D8BC6" fill-opacity="0.62"/>
<circle cx="146.19" cy="478.3" r="1.6" fill="#3D8BC6" fill-opacity="0.62"/>
<circle cx="148.77" cy="486.1" r="1.6" fill="#3D8BC6" fill-opacity="0.62"/>
<circle cx="145.08" cy="486.31" r="1.6" fill="#3D8BC6" fill-opacity="0.62"/>
<circle cx="150.47" cy="492.76" r="1.6" fill="#3D8BC6" fill-opacity="0.62"/>
<circle cx="145.76" cy="484.78" r="1.6" fill="#3D8BC6" fill-opacity="0.62"/>
<circle cx="139.66" cy="481.51" r="1.6" fill="#3D8BC6" fill-opacity="0.62"/>
<circle cx="144.44" cy="479.73" r="1.6" fill="#3D8BC6" fill-opacity="0.62"/>
<circle cx="155" cy="491.29" r="1.6" fill="#3D8BC6" fill-opacity="0.62"/>
<circle cx="140.36" cy="482.11" r="1.6" fill="#3D8BC6" fill-opacity="0.62"/>
<circle cx="169.05" cy="497.36" r="1.6" fill="#3D8BC6" fill-opacity="0.62"/>
<circle cx="143.5" cy="481.47" r="1.6" fill="#3D8BC6" fill-opacity="0.62"/>
<circle cx="125.21" cy="468.67" r="1.6" fill="#3D8BC6" fill-opacity="0.62"/>
<circle cx="166.08" cy="495.94" r="1.6" fill="#3D8BC6" fill-opacity="0.62"/>
<circle cx="143.68" cy="481.82" r="1.6" fill="#3D8BC6" fill-opacity="0.62"/>
<circle cx="151.14" cy="487.89" r="1.6" fill="#3D8BC6" fill-opacity="0.62"/>
<circle cx="167.38" cy="497.78" r="1.6" fill="#3D8BC6" fill-opacity="0.62"/>
<circle cx="119.7" cy="473.5" r="1.6" fill="#3D8BC6" fill-opacity="0.62"/>
<circle cx="128.75" cy="475.42" r="1.6" fill="#3D8BC6" fill-opacity="0.62"/>
<circle cx="135.52" cy="482.25" r="1.6" fill="#3D8BC6" fill-opacity="0.62"/>
<circle cx="137.27" cy="478.34" r="1.6" fill="#3D8BC6" fill-opacity="0.62"/>
<circle cx="157.11" cy="488.57" r="1.6" fill="#3D8BC6" fill-opacity="0.62"/>
<circle cx="124.99" cy="470.96" r="1.6" fill="#3D8BC6" fill-opacity="0.62"/>
<circle cx="128.95" cy="474.83" r="1.6" fill="#3D8BC6" fill-opacity="0.62"/>
<circle cx="146.52" cy="481.65" r="1.6" fill="#3D8BC6" fill-opacity="0.62"/>
<circle cx="140.34" cy="481.78" r="1.6" fill="#3D8BC6" fill-opacity="0.62"/>
<circle cx="146.47" cy="484.89" r="1.6" fill="#3D8BC6" fill-opacity="0.62"/>
<circle cx="151.85" cy="488.19" r="1.6" fill="#3D8BC6" fill-opacity="0.62"/>
<circle cx="152.23" cy="481.91" r="1.6" fill="#3D8BC6" fill-opacity="0.62"/>
<circle cx="150.82" cy="485.24" r="1.6" fill="#3D8BC6" fill-opacity="0.62"/>
<circle cx="163.76" cy="493.28" r="1.6" fill="#3D8BC6" fill-opacity="0.62"/>
<circle cx="161.32" cy="495.81" r="1.6" fill="#3D8BC6" fill-opacity="0.62"/>
<circle cx="166.19" cy="493.15" r="1.6" fill="#3D8BC6" fill-opacity="0.62"/>
<circle cx="167.25" cy="496.68" r="1.6" fill="#3D8BC6" fill-opacity="0.62"/>
<circle cx="119" cy="495.5" r="1.9" fill="#E5343A" fill-opacity="0.8"/>
<circle cx="119" cy="470.8" r="1.8" fill="#3D8BC6" fill-opacity="0.7"/>
<line x1="118.5" y1="497.6" x2="171.33" y2="497.6" stroke="#D4C27E" stroke-width="1.6"/>
<line x1="118.5" y1="513.1" x2="171.33" y2="542" stroke="#D7191C" stroke-width="1.6"/>
<line x1="118.5" y1="469.6" x2="171.33" y2="496.7" stroke="#2B7BBA" stroke-width="1.6"/>
<path d="M186.6,514.8 L191,516.68 L195.41,518.36 L199.81,519.85 L204.21,521.14 L208.61,522.24 L213.02,523.15 L217.42,523.86 L221.82,524.38 L226.22,524.7 L230.63,524.83 L235.03,524.76 L239.43,524.5 L239.43,537.5 L235.03,535.46 L230.63,533.61 L226.22,531.95 L221.82,530.49 L217.42,529.22 L213.02,528.15 L208.61,527.27 L204.21,526.59 L199.81,526.1 L195.41,525.81 L191,525.71 L186.6,525.8Z" fill="#999" fill-opacity="0.38"/>
<path d="M186.6,497.2 L191,497.83 L195.41,498.41 L199.81,498.93 L204.21,499.39 L208.61,499.8 L213.02,500.15 L217.42,500.45 L221.82,500.69 L226.22,500.88 L230.63,501.01 L235.03,501.08 L239.43,501.1 L239.43,504.7 L235.03,504.04 L230.63,503.43 L226.22,502.88 L221.82,502.38 L217.42,501.94 L213.02,501.55 L208.61,501.22 L204.21,500.94 L199.81,500.72 L195.41,500.56 L191,500.45 L186.6,500.4Z" fill="#999" fill-opacity="0.38"/>
<path d="M186.6,470.2 L191,473.89 L195.41,477.52 L199.81,481.1 L204.21,484.62 L208.61,488.09 L213.02,491.5 L217.42,494.86 L221.82,498.16 L226.22,501.4 L230.63,504.59 L235.03,507.72 L239.43,510.8 L239.43,514.4 L235.03,510.68 L230.63,507.01 L226.22,503.4 L221.82,499.84 L217.42,496.34 L213.02,492.9 L208.61,489.51 L204.21,486.18 L199.81,482.9 L195.41,479.68 L191,476.51 L186.6,473.4Z" fill="#999" fill-opacity="0.38"/>
<circle cx="198.12" cy="505.97" r="1.6" fill="#DCCB93" fill-opacity="0.65"/>
<circle cx="193.68" cy="499.28" r="1.6" fill="#DCCB93" fill-opacity="0.65"/>
<circle cx="199.24" cy="499.44" r="1.6" fill="#DCCB93" fill-opacity="0.65"/>
<circle cx="191.73" cy="496.9" r="1.6" fill="#DCCB93" fill-opacity="0.65"/>
<circle cx="230.56" cy="497.54" r="1.6" fill="#DCCB93" fill-opacity="0.65"/>
<circle cx="193.26" cy="501.82" r="1.6" fill="#DCCB93" fill-opacity="0.65"/>
<circle cx="207.88" cy="500.23" r="1.6" fill="#DCCB93" fill-opacity="0.65"/>
<circle cx="197.22" cy="499.1" r="1.6" fill="#DCCB93" fill-opacity="0.65"/>
<circle cx="222.65" cy="508.29" r="1.6" fill="#DCCB93" fill-opacity="0.65"/>
<circle cx="192.7" cy="495.11" r="1.6" fill="#DCCB93" fill-opacity="0.65"/>
<circle cx="213.32" cy="501.05" r="1.6" fill="#DCCB93" fill-opacity="0.65"/>
<circle cx="222.82" cy="498.07" r="1.6" fill="#DCCB93" fill-opacity="0.65"/>
<circle cx="196.59" cy="500.86" r="1.6" fill="#DCCB93" fill-opacity="0.65"/>
<circle cx="188.58" cy="499.56" r="1.6" fill="#DCCB93" fill-opacity="0.65"/>
<circle cx="215.74" cy="497.19" r="1.6" fill="#DCCB93" fill-opacity="0.65"/>
<circle cx="194.34" cy="499.04" r="1.6" fill="#DCCB93" fill-opacity="0.65"/>
<circle cx="196.35" cy="501.2" r="1.6" fill="#DCCB93" fill-opacity="0.65"/>
<circle cx="238.92" cy="508.37" r="1.6" fill="#DCCB93" fill-opacity="0.65"/>
<circle cx="235.57" cy="503.49" r="1.6" fill="#DCCB93" fill-opacity="0.65"/>
<circle cx="236.87" cy="503.31" r="1.6" fill="#DCCB93" fill-opacity="0.65"/>
<circle cx="211.01" cy="500.94" r="1.6" fill="#DCCB93" fill-opacity="0.65"/>
<circle cx="211.27" cy="498.06" r="1.6" fill="#DCCB93" fill-opacity="0.65"/>
<circle cx="213.82" cy="497.23" r="1.6" fill="#DCCB93" fill-opacity="0.65"/>
<circle cx="187.3" cy="500.58" r="1.6" fill="#DCCB93" fill-opacity="0.65"/>
<circle cx="223.64" cy="502.73" r="1.6" fill="#DCCB93" fill-opacity="0.65"/>
<circle cx="210.58" cy="499.09" r="1.6" fill="#DCCB93" fill-opacity="0.65"/>
<circle cx="225.66" cy="500.19" r="1.6" fill="#DCCB93" fill-opacity="0.65"/>
<circle cx="195.32" cy="500.58" r="1.6" fill="#DCCB93" fill-opacity="0.65"/>
<circle cx="213.68" cy="507.22" r="1.6" fill="#DCCB93" fill-opacity="0.65"/>
<circle cx="228.95" cy="502.7" r="1.6" fill="#DCCB93" fill-opacity="0.65"/>
<circle cx="223.83" cy="504.4" r="1.6" fill="#DCCB93" fill-opacity="0.65"/>
<circle cx="207.97" cy="497.21" r="1.6" fill="#DCCB93" fill-opacity="0.65"/>
<circle cx="218.28" cy="492.72" r="1.6" fill="#DCCB93" fill-opacity="0.65"/>
<circle cx="229.12" cy="501.87" r="1.6" fill="#DCCB93" fill-opacity="0.65"/>
<circle cx="200.24" cy="504.06" r="1.6" fill="#DCCB93" fill-opacity="0.65"/>
<circle cx="227.7" cy="499.37" r="1.6" fill="#DCCB93" fill-opacity="0.65"/>
<circle cx="229.64" cy="496.84" r="1.6" fill="#DCCB93" fill-opacity="0.65"/>
<circle cx="233.08" cy="505.98" r="1.6" fill="#DCCB93" fill-opacity="0.65"/>
<circle cx="223.31" cy="502.2" r="1.6" fill="#DCCB93" fill-opacity="0.65"/>
<circle cx="208.04" cy="495.39" r="1.6" fill="#DCCB93" fill-opacity="0.65"/>
<circle cx="224.78" cy="504.24" r="1.6" fill="#DCCB93" fill-opacity="0.65"/>
<circle cx="211.37" cy="501.9" r="1.6" fill="#DCCB93" fill-opacity="0.65"/>
<circle cx="187.16" cy="496.21" r="1.6" fill="#DCCB93" fill-opacity="0.65"/>
<circle cx="219.57" cy="504.73" r="1.6" fill="#DCCB93" fill-opacity="0.65"/>
<circle cx="198.86" cy="529.75" r="1.6" fill="#E5343A" fill-opacity="0.62"/>
<circle cx="204.45" cy="521.39" r="1.6" fill="#E5343A" fill-opacity="0.62"/>
<circle cx="221.46" cy="521.77" r="1.6" fill="#E5343A" fill-opacity="0.62"/>
<circle cx="207.18" cy="521.86" r="1.6" fill="#E5343A" fill-opacity="0.62"/>
<circle cx="239.42" cy="526.13" r="1.6" fill="#E5343A" fill-opacity="0.62"/>
<circle cx="226.84" cy="522.39" r="1.6" fill="#E5343A" fill-opacity="0.62"/>
<circle cx="238.38" cy="537.63" r="1.6" fill="#E5343A" fill-opacity="0.62"/>
<circle cx="225.63" cy="529.19" r="1.6" fill="#E5343A" fill-opacity="0.62"/>
<circle cx="200.16" cy="521.74" r="1.6" fill="#E5343A" fill-opacity="0.62"/>
<circle cx="196.93" cy="523.32" r="1.6" fill="#E5343A" fill-opacity="0.62"/>
<circle cx="206.45" cy="527.42" r="1.6" fill="#E5343A" fill-opacity="0.62"/>
<circle cx="234.45" cy="532.19" r="1.6" fill="#E5343A" fill-opacity="0.62"/>
<circle cx="215.66" cy="513.13" r="1.6" fill="#E5343A" fill-opacity="0.62"/>
<circle cx="216.61" cy="525.74" r="1.6" fill="#E5343A" fill-opacity="0.62"/>
<circle cx="239.17" cy="525.06" r="1.6" fill="#E5343A" fill-opacity="0.62"/>
<circle cx="190.63" cy="514.17" r="1.6" fill="#E5343A" fill-opacity="0.62"/>
<circle cx="218.17" cy="526.78" r="1.6" fill="#E5343A" fill-opacity="0.62"/>
<circle cx="235.74" cy="528.74" r="1.6" fill="#E5343A" fill-opacity="0.62"/>
<circle cx="195.05" cy="519.02" r="1.6" fill="#E5343A" fill-opacity="0.62"/>
<circle cx="212.78" cy="526.14" r="1.6" fill="#E5343A" fill-opacity="0.62"/>
<circle cx="218.89" cy="538.09" r="1.6" fill="#E5343A" fill-opacity="0.62"/>
<circle cx="208.83" cy="529.14" r="1.6" fill="#E5343A" fill-opacity="0.62"/>
<circle cx="214.43" cy="522.04" r="1.6" fill="#E5343A" fill-opacity="0.62"/>
<circle cx="201.7" cy="520.61" r="1.6" fill="#E5343A" fill-opacity="0.62"/>
<circle cx="221.21" cy="523.52" r="1.6" fill="#E5343A" fill-opacity="0.62"/>
<circle cx="224.46" cy="526.45" r="1.6" fill="#E5343A" fill-opacity="0.62"/>
<circle cx="202.24" cy="527.2" r="1.6" fill="#E5343A" fill-opacity="0.62"/>
<circle cx="188.86" cy="521.09" r="1.6" fill="#E5343A" fill-opacity="0.62"/>
<circle cx="194.87" cy="522.12" r="1.6" fill="#E5343A" fill-opacity="0.62"/>
<circle cx="234.02" cy="524.93" r="1.6" fill="#E5343A" fill-opacity="0.62"/>
<circle cx="226.14" cy="542.55" r="1.6" fill="#E5343A" fill-opacity="0.62"/>
<circle cx="236.5" cy="535.05" r="1.6" fill="#E5343A" fill-opacity="0.62"/>
<circle cx="190.48" cy="525.48" r="1.6" fill="#E5343A" fill-opacity="0.62"/>
<circle cx="211.83" cy="522.45" r="1.6" fill="#E5343A" fill-opacity="0.62"/>
<circle cx="238.01" cy="530.95" r="1.6" fill="#E5343A" fill-opacity="0.62"/>
<circle cx="236.12" cy="536.41" r="1.6" fill="#E5343A" fill-opacity="0.62"/>
<circle cx="224.78" cy="514.42" r="1.6" fill="#E5343A" fill-opacity="0.62"/>
<circle cx="229.75" cy="531.78" r="1.6" fill="#E5343A" fill-opacity="0.62"/>
<circle cx="218.49" cy="532" r="1.6" fill="#E5343A" fill-opacity="0.62"/>
<circle cx="210.67" cy="529.81" r="1.6" fill="#E5343A" fill-opacity="0.62"/>
<circle cx="197.36" cy="483.13" r="1.6" fill="#3D8BC6" fill-opacity="0.62"/>
<circle cx="193.17" cy="477.9" r="1.6" fill="#3D8BC6" fill-opacity="0.62"/>
<circle cx="210" cy="488.45" r="1.6" fill="#3D8BC6" fill-opacity="0.62"/>
<circle cx="200.45" cy="480" r="1.6" fill="#3D8BC6" fill-opacity="0.62"/>
<circle cx="217.36" cy="491.61" r="1.6" fill="#3D8BC6" fill-opacity="0.62"/>
<circle cx="214.64" cy="495.64" r="1.6" fill="#3D8BC6" fill-opacity="0.62"/>
<circle cx="239.31" cy="516.55" r="1.6" fill="#3D8BC6" fill-opacity="0.62"/>
<circle cx="199.2" cy="480.29" r="1.6" fill="#3D8BC6" fill-opacity="0.62"/>
<circle cx="192.62" cy="480" r="1.6" fill="#3D8BC6" fill-opacity="0.62"/>
<circle cx="219.62" cy="494.46" r="1.6" fill="#3D8BC6" fill-opacity="0.62"/>
<circle cx="205.58" cy="485.92" r="1.6" fill="#3D8BC6" fill-opacity="0.62"/>
<circle cx="216.44" cy="498.76" r="1.6" fill="#3D8BC6" fill-opacity="0.62"/>
<circle cx="217.86" cy="493.02" r="1.6" fill="#3D8BC6" fill-opacity="0.62"/>
<circle cx="196.63" cy="476.32" r="1.6" fill="#3D8BC6" fill-opacity="0.62"/>
<circle cx="199.75" cy="487.69" r="1.6" fill="#3D8BC6" fill-opacity="0.62"/>
<circle cx="233.03" cy="506.92" r="1.6" fill="#3D8BC6" fill-opacity="0.62"/>
<circle cx="188.69" cy="475.33" r="1.6" fill="#3D8BC6" fill-opacity="0.62"/>
<circle cx="209.06" cy="489.92" r="1.6" fill="#3D8BC6" fill-opacity="0.62"/>
<circle cx="219.53" cy="499.83" r="1.6" fill="#3D8BC6" fill-opacity="0.62"/>
<circle cx="190.43" cy="476.71" r="1.6" fill="#3D8BC6" fill-opacity="0.62"/>
<circle cx="191.17" cy="473.86" r="1.6" fill="#3D8BC6" fill-opacity="0.62"/>
<circle cx="219.94" cy="494.61" r="1.6" fill="#3D8BC6" fill-opacity="0.62"/>
<circle cx="206.32" cy="485.25" r="1.6" fill="#3D8BC6" fill-opacity="0.62"/>
<circle cx="204.76" cy="486.06" r="1.6" fill="#3D8BC6" fill-opacity="0.62"/>
<circle cx="225.95" cy="502.73" r="1.6" fill="#3D8BC6" fill-opacity="0.62"/>
<circle cx="192.93" cy="475.82" r="1.6" fill="#3D8BC6" fill-opacity="0.62"/>
<circle cx="229.35" cy="501.64" r="1.6" fill="#3D8BC6" fill-opacity="0.62"/>
<circle cx="197.86" cy="477.38" r="1.6" fill="#3D8BC6" fill-opacity="0.62"/>
<circle cx="209.02" cy="488.87" r="1.6" fill="#3D8BC6" fill-opacity="0.62"/>
<circle cx="206.09" cy="491.58" r="1.6" fill="#3D8BC6" fill-opacity="0.62"/>
<circle cx="221.13" cy="500.77" r="1.6" fill="#3D8BC6" fill-opacity="0.62"/>
<circle cx="215.58" cy="494.03" r="1.6" fill="#3D8BC6" fill-opacity="0.62"/>
<circle cx="226.02" cy="504.65" r="1.6" fill="#3D8BC6" fill-opacity="0.62"/>
<circle cx="206.11" cy="485.56" r="1.6" fill="#3D8BC6" fill-opacity="0.62"/>
<circle cx="191.73" cy="476.5" r="1.6" fill="#3D8BC6" fill-opacity="0.62"/>
<circle cx="190.99" cy="474.44" r="1.6" fill="#3D8BC6" fill-opacity="0.62"/>
<circle cx="216.41" cy="490.88" r="1.6" fill="#3D8BC6" fill-opacity="0.62"/>
<circle cx="202.39" cy="484.37" r="1.6" fill="#3D8BC6" fill-opacity="0.62"/>
<circle cx="227.57" cy="505.04" r="1.6" fill="#3D8BC6" fill-opacity="0.62"/>
<circle cx="221.58" cy="499.64" r="1.6" fill="#3D8BC6" fill-opacity="0.62"/>
<circle cx="190.92" cy="473.75" r="1.6" fill="#3D8BC6" fill-opacity="0.62"/>
<circle cx="223.26" cy="504.06" r="1.6" fill="#3D8BC6" fill-opacity="0.62"/>
<circle cx="187.1" cy="495.5" r="1.9" fill="#E5343A" fill-opacity="0.8"/>
<circle cx="187.1" cy="470.8" r="1.8" fill="#3D8BC6" fill-opacity="0.7"/>
<line x1="186.6" y1="498.8" x2="239.43" y2="502.9" stroke="#D4C27E" stroke-width="1.6"/>
<line x1="186.6" y1="520.3" x2="239.43" y2="531" stroke="#D7191C" stroke-width="1.6"/>
<line x1="186.6" y1="471.8" x2="239.43" y2="512.6" stroke="#2B7BBA" stroke-width="1.6"/>
<path d="M254.6,521.9 L259,523.47 L263.41,524.69 L267.81,525.56 L272.21,526.09 L276.61,526.27 L281.01,526.1 L285.42,525.58 L289.82,524.72 L294.22,523.51 L298.62,521.96 L303.03,520.05 L307.43,517.8 L307.43,541.8 L303.03,539.98 L298.62,538.51 L294.22,537.39 L289.82,536.61 L285.42,536.18 L281.01,536.1 L276.61,536.37 L272.21,536.98 L267.81,537.94 L263.41,539.24 L259,540.9 L254.6,542.9Z" fill="#999" fill-opacity="0.38"/>
<path d="M254.6,498.1 L259,498.12 L263.41,497.94 L267.81,497.58 L272.21,497.01 L276.61,496.25 L281.01,495.3 L285.42,494.15 L289.82,492.81 L294.22,491.27 L298.62,489.54 L303.03,487.62 L307.43,485.5 L307.43,498.5 L303.03,498.48 L298.62,498.66 L294.22,499.02 L289.82,499.59 L285.42,500.35 L281.01,501.3 L276.61,502.45 L272.21,503.79 L267.81,505.33 L263.41,507.06 L259,508.98 L254.6,511.1Z" fill="#999" fill-opacity="0.38"/>
<path d="M254.6,472 L259,474.5 L263.41,476.92 L267.81,479.28 L272.21,481.56 L276.61,483.76 L281.01,485.9 L285.42,487.96 L289.82,489.96 L294.22,491.88 L298.62,493.72 L303.03,495.5 L307.43,497.2 L307.43,502.2 L303.03,499.7 L298.62,497.28 L294.22,494.92 L289.82,492.64 L285.42,490.44 L281.01,488.3 L276.61,486.24 L272.21,484.24 L267.81,482.32 L263.41,480.48 L259,478.7 L254.6,477Z" fill="#999" fill-opacity="0.38"/>
<circle cx="269.55" cy="506.02" r="1.6" fill="#DCCB93" fill-opacity="0.65"/>
<circle cx="292.95" cy="501.71" r="1.6" fill="#DCCB93" fill-opacity="0.65"/>
<circle cx="273.96" cy="509.87" r="1.6" fill="#DCCB93" fill-opacity="0.65"/>
<circle cx="284.67" cy="506.41" r="1.6" fill="#DCCB93" fill-opacity="0.65"/>
<circle cx="303.13" cy="510.5" r="1.6" fill="#DCCB93" fill-opacity="0.65"/>
<circle cx="277.74" cy="492.15" r="1.6" fill="#DCCB93" fill-opacity="0.65"/>
<circle cx="297.03" cy="491.97" r="1.6" fill="#DCCB93" fill-opacity="0.65"/>
<circle cx="275.71" cy="506.56" r="1.6" fill="#DCCB93" fill-opacity="0.65"/>
<circle cx="303.98" cy="497.89" r="1.6" fill="#DCCB93" fill-opacity="0.65"/>
<circle cx="273.71" cy="496.1" r="1.6" fill="#DCCB93" fill-opacity="0.65"/>
<circle cx="273.91" cy="494.42" r="1.6" fill="#DCCB93" fill-opacity="0.65"/>
<circle cx="275.08" cy="506.17" r="1.6" fill="#DCCB93" fill-opacity="0.65"/>
<circle cx="264.9" cy="488.17" r="1.6" fill="#DCCB93" fill-opacity="0.65"/>
<circle cx="283.16" cy="491.86" r="1.6" fill="#DCCB93" fill-opacity="0.65"/>
<circle cx="298.79" cy="489.17" r="1.6" fill="#DCCB93" fill-opacity="0.65"/>
<circle cx="294.7" cy="493" r="1.6" fill="#DCCB93" fill-opacity="0.65"/>
<circle cx="301.14" cy="493.15" r="1.6" fill="#DCCB93" fill-opacity="0.65"/>
<circle cx="281.84" cy="499.87" r="1.6" fill="#DCCB93" fill-opacity="0.65"/>
<circle cx="283.35" cy="477.56" r="1.6" fill="#DCCB93" fill-opacity="0.65"/>
<circle cx="289" cy="487.29" r="1.6" fill="#DCCB93" fill-opacity="0.65"/>
<circle cx="297.09" cy="504.31" r="1.6" fill="#DCCB93" fill-opacity="0.65"/>
<circle cx="296.23" cy="498.86" r="1.6" fill="#DCCB93" fill-opacity="0.65"/>
<circle cx="259.04" cy="515.64" r="1.6" fill="#DCCB93" fill-opacity="0.65"/>
<circle cx="302.1" cy="500.09" r="1.6" fill="#DCCB93" fill-opacity="0.65"/>
<circle cx="259.07" cy="500.38" r="1.6" fill="#DCCB93" fill-opacity="0.65"/>
<circle cx="294" cy="491.67" r="1.6" fill="#DCCB93" fill-opacity="0.65"/>
<circle cx="288.89" cy="530.89" r="1.6" fill="#E5343A" fill-opacity="0.62"/>
<circle cx="295.03" cy="536.76" r="1.6" fill="#E5343A" fill-opacity="0.62"/>
<circle cx="282.15" cy="531.88" r="1.6" fill="#E5343A" fill-opacity="0.62"/>
<circle cx="272.45" cy="522.55" r="1.6" fill="#E5343A" fill-opacity="0.62"/>
<circle cx="305.75" cy="524.96" r="1.6" fill="#E5343A" fill-opacity="0.62"/>
<circle cx="282.99" cy="521.73" r="1.6" fill="#E5343A" fill-opacity="0.62"/>
<circle cx="292.69" cy="525.33" r="1.6" fill="#E5343A" fill-opacity="0.62"/>
<circle cx="276.29" cy="512.04" r="1.6" fill="#E5343A" fill-opacity="0.62"/>
<circle cx="298.25" cy="521.44" r="1.6" fill="#E5343A" fill-opacity="0.62"/>
<circle cx="297.18" cy="515.02" r="1.6" fill="#E5343A" fill-opacity="0.62"/>
<circle cx="298.65" cy="547.56" r="1.6" fill="#E5343A" fill-opacity="0.62"/>
<circle cx="288.43" cy="516.15" r="1.6" fill="#E5343A" fill-opacity="0.62"/>
<circle cx="282.28" cy="527.02" r="1.6" fill="#E5343A" fill-opacity="0.62"/>
<circle cx="276.87" cy="515.61" r="1.6" fill="#E5343A" fill-opacity="0.62"/>
<circle cx="276.81" cy="540.29" r="1.6" fill="#E5343A" fill-opacity="0.62"/>
<circle cx="306.96" cy="541.58" r="1.6" fill="#E5343A" fill-opacity="0.62"/>
<circle cx="274.44" cy="534.43" r="1.6" fill="#E5343A" fill-opacity="0.62"/>
<circle cx="277.05" cy="536.58" r="1.6" fill="#E5343A" fill-opacity="0.62"/>
<circle cx="270.03" cy="534.73" r="1.6" fill="#E5343A" fill-opacity="0.62"/>
<circle cx="270.9" cy="531" r="1.6" fill="#E5343A" fill-opacity="0.62"/>
<circle cx="260.67" cy="522.79" r="1.6" fill="#E5343A" fill-opacity="0.62"/>
<circle cx="264.08" cy="519.46" r="1.6" fill="#E5343A" fill-opacity="0.62"/>
<circle cx="257.89" cy="520.71" r="1.6" fill="#E5343A" fill-opacity="0.62"/>
<circle cx="302.64" cy="533.09" r="1.6" fill="#E5343A" fill-opacity="0.62"/>
<circle cx="256.52" cy="536.77" r="1.6" fill="#E5343A" fill-opacity="0.62"/>
<circle cx="266.08" cy="535.46" r="1.6" fill="#E5343A" fill-opacity="0.62"/>
<circle cx="267.04" cy="479.33" r="1.6" fill="#3D8BC6" fill-opacity="0.62"/>
<circle cx="266.43" cy="474.88" r="1.6" fill="#3D8BC6" fill-opacity="0.62"/>
<circle cx="264.37" cy="478.68" r="1.6" fill="#3D8BC6" fill-opacity="0.62"/>
<circle cx="294.62" cy="496" r="1.6" fill="#3D8BC6" fill-opacity="0.62"/>
<circle cx="271.07" cy="475.32" r="1.6" fill="#3D8BC6" fill-opacity="0.62"/>
<circle cx="279.93" cy="484.38" r="1.6" fill="#3D8BC6" fill-opacity="0.62"/>
<circle cx="268.36" cy="487.8" r="1.6" fill="#3D8BC6" fill-opacity="0.62"/>
<circle cx="272.67" cy="477.36" r="1.6" fill="#3D8BC6" fill-opacity="0.62"/>
<circle cx="283.52" cy="492.72" r="1.6" fill="#3D8BC6" fill-opacity="0.62"/>
<circle cx="266.28" cy="478.84" r="1.6" fill="#3D8BC6" fill-opacity="0.62"/>
<circle cx="257.23" cy="482.56" r="1.6" fill="#3D8BC6" fill-opacity="0.62"/>
<circle cx="274.94" cy="481.87" r="1.6" fill="#3D8BC6" fill-opacity="0.62"/>
<circle cx="282.47" cy="484.61" r="1.6" fill="#3D8BC6" fill-opacity="0.62"/>
<circle cx="306.91" cy="499.14" r="1.6" fill="#3D8BC6" fill-opacity="0.62"/>
<circle cx="289.34" cy="491.12" r="1.6" fill="#3D8BC6" fill-opacity="0.62"/>
<circle cx="279.57" cy="487" r="1.6" fill="#3D8BC6" fill-opacity="0.62"/>
<circle cx="274.23" cy="485.69" r="1.6" fill="#3D8BC6" fill-opacity="0.62"/>
<circle cx="286.62" cy="483.72" r="1.6" fill="#3D8BC6" fill-opacity="0.62"/>
<circle cx="262.91" cy="480.41" r="1.6" fill="#3D8BC6" fill-opacity="0.62"/>
<circle cx="268.31" cy="483.98" r="1.6" fill="#3D8BC6" fill-opacity="0.62"/>
<circle cx="300.52" cy="490.74" r="1.6" fill="#3D8BC6" fill-opacity="0.62"/>
<circle cx="307.07" cy="498.95" r="1.6" fill="#3D8BC6" fill-opacity="0.62"/>
<circle cx="268.68" cy="478.98" r="1.6" fill="#3D8BC6" fill-opacity="0.62"/>
<circle cx="295.3" cy="493.42" r="1.6" fill="#3D8BC6" fill-opacity="0.62"/>
<circle cx="255.1" cy="495.5" r="1.9" fill="#E5343A" fill-opacity="0.8"/>
<circle cx="255.1" cy="470.8" r="1.8" fill="#3D8BC6" fill-opacity="0.7"/>
<line x1="254.6" y1="504.6" x2="307.43" y2="492" stroke="#D4C27E" stroke-width="1.6"/>
<line x1="254.6" y1="532.4" x2="307.43" y2="529.8" stroke="#D7191C" stroke-width="1.6"/>
<line x1="254.6" y1="474.5" x2="307.43" y2="499.7" stroke="#2B7BBA" stroke-width="1.6"/>
<circle cx="73" cy="566.2" r="1.6" fill="#E5343A" fill-opacity="0.62"/>
<circle cx="76.1" cy="566.2" r="1.6" fill="#E5343A" fill-opacity="0.62"/>
<circle cx="85.2" cy="567.8" r="1.6" fill="#E5343A" fill-opacity="0.62"/>
<circle cx="260" cy="562" r="1.6" fill="#E5343A" fill-opacity="0.62"/>
<circle cx="262.7" cy="563.8" r="1.6" fill="#E5343A" fill-opacity="0.62"/>
<text x="77.3" y="441.6" font-size="4.9" fill="#E21E26" stroke="#E21E26" style="stroke:#E21E26;stroke-width:0.15px" text-anchor="middle">p = 7.71e−08 | R<tspan font-size="3.4" dy="-1.5">2</tspan><tspan dy="1.5"> = 0.411</tspan></text>
<text x="77.3" y="453" font-size="4.9" fill="#2F80BE" stroke="#2F80BE" style="stroke:#2F80BE;stroke-width:0.15px" text-anchor="middle">p = 3.77e−06 | R<tspan font-size="3.4" dy="-1.5">2</tspan><tspan dy="1.5"> = 0.418</tspan></text>
<text x="147.4" y="440.3" font-size="4.9" fill="#E21E26" stroke="#E21E26" style="stroke:#E21E26;stroke-width:0.15px" text-anchor="middle">p = 3.98e−05 | R<tspan font-size="3.4" dy="-1.5">2</tspan><tspan dy="1.5"> = 0.348</tspan></text>
<text x="147.4" y="452" font-size="4.9" fill="#2F80BE" stroke="#2F80BE" style="stroke:#2F80BE;stroke-width:0.15px" text-anchor="middle">p = 2.2e−11 | R<tspan font-size="3.4" dy="-1.5">2</tspan><tspan dy="1.5"> = 0.670</tspan></text>
<text x="215.6" y="440.6" font-size="4.9" fill="#E21E26" stroke="#E21E26" style="stroke:#E21E26;stroke-width:0.15px" text-anchor="middle">p = 0.0251 | R<tspan font-size="3.4" dy="-1.5">2</tspan><tspan dy="1.5"> = 0.111</tspan></text>
<text x="215.6" y="452.3" font-size="4.9" fill="#D6C48B" stroke="#D6C48B" style="stroke:#D6C48B;stroke-width:0.15px" text-anchor="middle">p = 0.00058 | R<tspan font-size="3.4" dy="-1.5">2</tspan><tspan dy="1.5"> = 0.243</tspan></text>
<text x="215.6" y="463.9" font-size="4.9" fill="#2F80BE" stroke="#2F80BE" style="stroke:#2F80BE;stroke-width:0.15px" text-anchor="middle">p = 4.14e−23 | R<tspan font-size="3.4" dy="-1.5">2</tspan><tspan dy="1.5"> = 0.9</tspan></text>
<text x="283.9" y="441.1" font-size="4.9" fill="#D6C48B" stroke="#D6C48B" style="stroke:#D6C48B;stroke-width:0.15px" text-anchor="middle">p = 0.0148 | R<tspan font-size="3.4" dy="-1.5">2</tspan><tspan dy="1.5"> = 0.194</tspan></text>
<text x="283.9" y="452.5" font-size="4.9" fill="#2F80BE" stroke="#2F80BE" style="stroke:#2F80BE;stroke-width:0.15px" text-anchor="middle">p = 4.48e−10 | R<tspan font-size="3.4" dy="-1.5">2</tspan><tspan dy="1.5"> = 0.756</tspan></text>
<text x="295.6" y="551.5" font-size="5.6" fill="#1a1a1a">Gas</text>
<rect x="295.4" y="554.6" width="5.5" height="16.1" fill="#d9d9d9"/>
<line x1="295.8" y1="557.4" x2="300.4" y2="557.4" stroke="#E21E26" stroke-width="1.0"/>
<line x1="295.8" y1="562.5" x2="300.4" y2="562.5" stroke="#D6C48B" stroke-width="1.0"/>
<line x1="295.8" y1="567.8" x2="300.4" y2="567.8" stroke="#2F80BE" stroke-width="1.0"/>
<text x="303.6" y="559" font-size="4.5" fill="#1a1a1a">H<tspan font-size="3" dy="1">2</tspan></text>
<text x="303.6" y="564.1" font-size="4.5" fill="#1a1a1a">CO</text>
<text x="303.6" y="569.4" font-size="4.5" fill="#1a1a1a">CH<tspan font-size="3" dy="1">4</tspan></text>
<text x="350.6" y="432.6" font-size="27" fill="#000" font-weight="bold">e</text>
<rect x="397.6" y="416.9" width="87.6" height="15.5" fill="#fff" stroke="#555" stroke-width="0.9"/>
<text x="441.4" y="428.4" font-size="10.5" fill="#1a1a1a" text-anchor="middle">H<tspan font-size="6.6" dy="2.4">2</tspan></text>
<rect x="488.5" y="416.9" width="87.1" height="15.5" fill="#fff" stroke="#555" stroke-width="0.9"/>
<text x="532.05" y="428.4" font-size="10.5" fill="#1a1a1a" text-anchor="middle">CO</text>
<rect x="578.9" y="416.9" width="87.7" height="15.5" fill="#fff" stroke="#555" stroke-width="0.9"/>
<text x="622.75" y="428.4" font-size="10.5" fill="#1a1a1a" text-anchor="middle">CH<tspan font-size="6.6" dy="2.4">4</tspan></text>
<line x1="397.6" y1="432.4" x2="397.6" y2="574.9" stroke="#707070" stroke-width="1.0"/>
<line x1="395.3" y1="459.6" x2="397.6" y2="459.6" stroke="#707070" stroke-width="0.9"/>
<text x="394.4" y="462.6" font-size="8.5" fill="#222" text-anchor="end">10.00</text>
<line x1="395.3" y1="494.3" x2="397.6" y2="494.3" stroke="#707070" stroke-width="0.9"/>
<text x="394.4" y="497.3" font-size="8.5" fill="#222" text-anchor="end">1.00</text>
<line x1="395.3" y1="528.7" x2="397.6" y2="528.7" stroke="#707070" stroke-width="0.9"/>
<text x="394.4" y="531.7" font-size="8.5" fill="#222" text-anchor="end">0.10</text>
<line x1="395.3" y1="563.3" x2="397.6" y2="563.3" stroke="#707070" stroke-width="0.9"/>
<text x="394.4" y="566.3" font-size="8.5" fill="#222" text-anchor="end">0.01</text>
<line x1="397.6" y1="574.9" x2="484.5" y2="574.9" stroke="#707070" stroke-width="1.0"/>
<line x1="488.4" y1="574.9" x2="575.8" y2="574.9" stroke="#707070" stroke-width="1.0"/>
<line x1="579.4" y1="574.9" x2="667" y2="574.9" stroke="#707070" stroke-width="1.0"/>
<line x1="410.4" y1="574.9" x2="410.4" y2="577.2" stroke="#707070" stroke-width="0.9"/>
<text x="414.8" y="583.4" font-size="8.8" fill="#222" text-anchor="end" transform="rotate(-45 414.8 583.4)">0-7</text>
<line x1="431" y1="574.9" x2="431" y2="577.2" stroke="#707070" stroke-width="0.9"/>
<text x="435.4" y="583.4" font-size="8.8" fill="#222" text-anchor="end" transform="rotate(-45 435.4 583.4)">8-27</text>
<line x1="451.7" y1="574.9" x2="451.7" y2="577.2" stroke="#707070" stroke-width="0.9"/>
<text x="456.1" y="583.4" font-size="8.8" fill="#222" text-anchor="end" transform="rotate(-45 456.1 583.4)">28-57</text>
<line x1="472.4" y1="574.9" x2="472.4" y2="577.2" stroke="#707070" stroke-width="0.9"/>
<text x="476.8" y="583.4" font-size="8.8" fill="#222" text-anchor="end" transform="rotate(-45 476.8 583.4)">58-127</text>
<line x1="501.2" y1="574.9" x2="501.2" y2="577.2" stroke="#707070" stroke-width="0.9"/>
<text x="505.6" y="583.4" font-size="8.8" fill="#222" text-anchor="end" transform="rotate(-45 505.6 583.4)">0-7</text>
<line x1="521.5" y1="574.9" x2="521.5" y2="577.2" stroke="#707070" stroke-width="0.9"/>
<text x="525.9" y="583.4" font-size="8.8" fill="#222" text-anchor="end" transform="rotate(-45 525.9 583.4)">8-27</text>
<line x1="542.4" y1="574.9" x2="542.4" y2="577.2" stroke="#707070" stroke-width="0.9"/>
<text x="546.8" y="583.4" font-size="8.8" fill="#222" text-anchor="end" transform="rotate(-45 546.8 583.4)">28-57</text>
<line x1="563.4" y1="574.9" x2="563.4" y2="577.2" stroke="#707070" stroke-width="0.9"/>
<text x="567.8" y="583.4" font-size="8.8" fill="#222" text-anchor="end" transform="rotate(-45 567.8 583.4)">58-127</text>
<line x1="591.8" y1="574.9" x2="591.8" y2="577.2" stroke="#707070" stroke-width="0.9"/>
<text x="596.2" y="583.4" font-size="8.8" fill="#222" text-anchor="end" transform="rotate(-45 596.2 583.4)">0-7</text>
<line x1="612.8" y1="574.9" x2="612.8" y2="577.2" stroke="#707070" stroke-width="0.9"/>
<text x="617.2" y="583.4" font-size="8.8" fill="#222" text-anchor="end" transform="rotate(-45 617.2 583.4)">8-27</text>
<line x1="633.7" y1="574.9" x2="633.7" y2="577.2" stroke="#707070" stroke-width="0.9"/>
<text x="638.1" y="583.4" font-size="8.8" fill="#222" text-anchor="end" transform="rotate(-45 638.1 583.4)">28-57</text>
<line x1="654.7" y1="574.9" x2="654.7" y2="577.2" stroke="#707070" stroke-width="0.9"/>
<text x="659.1" y="583.4" font-size="8.8" fill="#222" text-anchor="end" transform="rotate(-45 659.1 583.4)">58-127</text>
<text x="366.4" y="503.6" font-size="10.5" fill="#1a1a1a" text-anchor="middle" textLength="91" lengthAdjust="spacing" transform="rotate(-90 366.4 503.6)">Flux (nmol m<tspan font-size="7.8" dy="-4.6">−2</tspan><tspan dy="4.6"> s</tspan><tspan font-size="7.8" dy="-4.6">−1</tspan><tspan dy="4.6"> )</tspan></text>
<text x="540.5" y="613.2" font-size="10.7" fill="#1a1a1a" text-anchor="middle">Soil age (yrs)</text>
<line x1="410.4" y1="454.6" x2="410.4" y2="459.1" stroke="#444" stroke-width="0.8"/>
<line x1="410.4" y1="465.3" x2="410.4" y2="470.8" stroke="#444" stroke-width="0.8"/>
<rect x="402.6" y="459.1" width="15.6" height="6.2" fill="#DE1A22" stroke="#444" stroke-width="0.8"/>
<line x1="402.6" y1="462.6" x2="418.2" y2="462.6" stroke="#333" stroke-width="1.2"/>
<line x1="431" y1="438.5" x2="431" y2="445.5" stroke="#444" stroke-width="0.8"/>
<line x1="431" y1="462.6" x2="431" y2="464.6" stroke="#444" stroke-width="0.8"/>
<rect x="423.2" y="445.5" width="15.6" height="17.1" fill="#DE1A22" stroke="#444" stroke-width="0.8"/>
<line x1="423.2" y1="455.1" x2="438.8" y2="455.1" stroke="#333" stroke-width="1.2"/>
<line x1="451.75" y1="446.7" x2="451.75" y2="453.4" stroke="#444" stroke-width="0.8"/>
<line x1="451.75" y1="460.1" x2="451.75" y2="461" stroke="#444" stroke-width="0.8"/>
<rect x="443.8" y="453.4" width="15.9" height="6.7" fill="#DE1A22" stroke="#444" stroke-width="0.8"/>
<line x1="443.8" y1="457.6" x2="459.7" y2="457.6" stroke="#333" stroke-width="1.2"/>
<line x1="472.45" y1="440" x2="472.45" y2="441" stroke="#444" stroke-width="0.8"/>
<line x1="472.45" y1="451.4" x2="472.45" y2="460.1" stroke="#444" stroke-width="0.8"/>
<rect x="464.1" y="441" width="16.7" height="10.4" fill="#DE1A22" stroke="#444" stroke-width="0.8"/>
<line x1="464.1" y1="442.7" x2="480.8" y2="442.7" stroke="#333" stroke-width="1.2"/>
<circle cx="412.5" cy="455" r="1.45" fill="#000"/>
<circle cx="406.5" cy="462" r="1.45" fill="#000"/>
<circle cx="411" cy="461.6" r="1.45" fill="#000"/>
<circle cx="410.6" cy="470.8" r="1.45" fill="#000"/>
<circle cx="428" cy="447" r="1.45" fill="#000"/>
<circle cx="436.2" cy="438.5" r="1.45" fill="#000"/>
<circle cx="431" cy="464.2" r="1.45" fill="#000"/>
<circle cx="433" cy="462.5" r="1.45" fill="#000"/>
<circle cx="455.7" cy="446.7" r="1.45" fill="#000"/>
<circle cx="449" cy="454" r="1.45" fill="#000"/>
<circle cx="452" cy="451.8" r="1.45" fill="#000"/>
<circle cx="452.8" cy="459" r="1.45" fill="#000"/>
<circle cx="454" cy="461" r="1.45" fill="#000"/>
<circle cx="449.8" cy="457.6" r="1.45" fill="#000"/>
<circle cx="470.8" cy="440" r="1.45" fill="#000"/>
<circle cx="473.8" cy="441.3" r="1.45" fill="#000"/>
<circle cx="476.2" cy="460.1" r="1.45" fill="#000"/>
<line x1="501.25" y1="516.9" x2="501.25" y2="520.5" stroke="#444" stroke-width="0.8"/>
<line x1="501.25" y1="528.9" x2="501.25" y2="533.4" stroke="#444" stroke-width="0.8"/>
<rect x="493.5" y="520.5" width="15.5" height="8.4" fill="#DCC785" stroke="#444" stroke-width="0.8"/>
<line x1="493.5" y1="525.3" x2="509" y2="525.3" stroke="#333" stroke-width="1.2"/>
<line x1="521.45" y1="524.4" x2="521.45" y2="527.4" stroke="#444" stroke-width="0.8"/>
<line x1="521.45" y1="534.9" x2="521.45" y2="537.9" stroke="#444" stroke-width="0.8"/>
<rect x="513.5" y="527.4" width="15.9" height="7.5" fill="#DCC785" stroke="#444" stroke-width="0.8"/>
<line x1="513.5" y1="531.9" x2="529.4" y2="531.9" stroke="#333" stroke-width="1.2"/>
<line x1="542.4" y1="521" x2="542.4" y2="521.7" stroke="#444" stroke-width="0.8"/>
<line x1="542.4" y1="525.9" x2="542.4" y2="526.5" stroke="#444" stroke-width="0.8"/>
<rect x="534.5" y="521.7" width="15.8" height="4.2" fill="#DCC785" stroke="#444" stroke-width="0.8"/>
<line x1="534.5" y1="522.9" x2="550.3" y2="522.9" stroke="#333" stroke-width="1.2"/>
<line x1="555.4" y1="543.9" x2="571.3" y2="543.9" stroke="#555" stroke-width="1.2"/>
<circle cx="501" cy="516.9" r="1.45" fill="#000"/>
<circle cx="500" cy="533.4" r="1.45" fill="#000"/>
<circle cx="522" cy="524.4" r="1.45" fill="#000"/>
<circle cx="517.5" cy="537.9" r="1.45" fill="#000"/>
<circle cx="542" cy="519" r="1.45" fill="#000"/>
<circle cx="541" cy="522.9" r="1.45" fill="#000"/>
<circle cx="543.8" cy="522.9" r="1.45" fill="#000"/>
<circle cx="542.5" cy="533.4" r="1.45" fill="#000"/>
<circle cx="563.4" cy="543.9" r="1.45" fill="#000"/>
<line x1="591.8" y1="546.9" x2="591.8" y2="552.3" stroke="#444" stroke-width="0.8"/>
<line x1="591.8" y1="563.3" x2="591.8" y2="568.4" stroke="#444" stroke-width="0.8"/>
<rect x="583.9" y="552.3" width="15.8" height="11" fill="#2B83C0" stroke="#444" stroke-width="0.8"/>
<line x1="583.9" y1="557.6" x2="599.7" y2="557.6" stroke="#333" stroke-width="1.2"/>
<line x1="612.75" y1="513" x2="612.75" y2="518.4" stroke="#444" stroke-width="0.8"/>
<line x1="612.75" y1="541.8" x2="612.75" y2="560.3" stroke="#444" stroke-width="0.8"/>
<rect x="604.8" y="518.4" width="15.9" height="23.4" fill="#2B83C0" stroke="#444" stroke-width="0.8"/>
<line x1="604.8" y1="523.5" x2="620.7" y2="523.5" stroke="#333" stroke-width="1.2"/>
<line x1="633.7" y1="508.6" x2="633.7" y2="513" stroke="#444" stroke-width="0.8"/>
<rect x="625.8" y="513" width="15.8" height="7.5" fill="#2B83C0" stroke="#444" stroke-width="0.8"/>
<line x1="625.8" y1="516.9" x2="641.6" y2="516.9" stroke="#333" stroke-width="1.2"/>
<line x1="654.65" y1="508" x2="654.65" y2="510.4" stroke="#444" stroke-width="0.8"/>
<line x1="654.65" y1="516" x2="654.65" y2="518.4" stroke="#444" stroke-width="0.8"/>
<rect x="646.7" y="510.4" width="15.9" height="5.6" fill="#2B83C0" stroke="#444" stroke-width="0.8"/>
<line x1="646.7" y1="513" x2="662.6" y2="513" stroke="#333" stroke-width="1.2"/>
<circle cx="589.6" cy="546.9" r="1.45" fill="#000"/>
<circle cx="592.5" cy="557.6" r="1.45" fill="#000"/>
<circle cx="591.5" cy="568.4" r="1.45" fill="#000"/>
<circle cx="607" cy="513" r="1.45" fill="#000"/>
<circle cx="614" cy="523.5" r="1.45" fill="#000"/>
<circle cx="615.5" cy="560.3" r="1.45" fill="#000"/>
<circle cx="634.4" cy="508.3" r="1.45" fill="#000"/>
<circle cx="630.4" cy="512.3" r="1.45" fill="#000"/>
<circle cx="633" cy="515.5" r="1.45" fill="#000"/>
<circle cx="633.5" cy="518.4" r="1.45" fill="#000"/>
<circle cx="634" cy="521" r="1.45" fill="#000"/>
<circle cx="635" cy="566.3" r="1.45" fill="#000"/>
<circle cx="657.8" cy="507.8" r="1.45" fill="#000"/>
<circle cx="650.3" cy="518.4" r="1.45" fill="#000"/>
<text x="4.4" y="631" font-size="27" fill="#000" font-weight="bold">f</text>
<rect x="44.3" y="621.1" width="87.4" height="15.5" fill="#fff" stroke="#333" stroke-width="1.0"/>
<text x="88" y="632.4" font-size="10.5" fill="#1a1a1a" text-anchor="middle">H<tspan font-size="6.6" dy="2.4">2</tspan></text>
<rect x="134.9" y="621.1" width="87.4" height="15.5" fill="#fff" stroke="#333" stroke-width="1.0"/>
<text x="178.6" y="632.4" font-size="10.5" fill="#1a1a1a" text-anchor="middle">CO</text>
<rect x="225.6" y="621.1" width="87.8" height="15.5" fill="#fff" stroke="#333" stroke-width="1.0"/>
<text x="269.5" y="632.4" font-size="10.5" fill="#1a1a1a" text-anchor="middle">CH<tspan font-size="6.6" dy="2.4">4</tspan></text>
<line x1="44.1" y1="636.6" x2="44.1" y2="778.8" stroke="#707070" stroke-width="1.0"/>
<line x1="41.8" y1="654" x2="44.1" y2="654" stroke="#707070" stroke-width="0.9"/>
<text x="32.4" y="657.6" font-size="8.4" fill="#222" text-anchor="end">10</text>
<text x="32.8" y="653.6" font-size="6.2" fill="#222">−1</text>
<line x1="41.8" y1="702.2" x2="44.1" y2="702.2" stroke="#707070" stroke-width="0.9"/>
<text x="32.4" y="705.8" font-size="8.4" fill="#222" text-anchor="end">10</text>
<text x="32.8" y="701.8" font-size="6.2" fill="#222">−3</text>
<line x1="41.8" y1="750.3" x2="44.1" y2="750.3" stroke="#707070" stroke-width="0.9"/>
<text x="32.4" y="753.9" font-size="8.4" fill="#222" text-anchor="end">10</text>
<text x="32.8" y="749.9" font-size="6.2" fill="#222">−5</text>
<line x1="44.1" y1="778.8" x2="131.5" y2="778.8" stroke="#707070" stroke-width="1.0"/>
<line x1="134.9" y1="778.8" x2="222.1" y2="778.8" stroke="#707070" stroke-width="1.0"/>
<line x1="226.1" y1="778.8" x2="312.9" y2="778.8" stroke="#707070" stroke-width="1.0"/>
<line x1="56.6" y1="778.8" x2="56.6" y2="781.1" stroke="#707070" stroke-width="0.9"/>
<text x="60.2" y="787.2" font-size="8.9" fill="#222" text-anchor="end" transform="rotate(-45 60.2 787.2)">0-7</text>
<line x1="77.3" y1="778.8" x2="77.3" y2="781.1" stroke="#707070" stroke-width="0.9"/>
<text x="80.9" y="787.2" font-size="8.9" fill="#222" text-anchor="end" transform="rotate(-45 80.9 787.2)">8-27</text>
<line x1="98.1" y1="778.8" x2="98.1" y2="781.1" stroke="#707070" stroke-width="0.9"/>
<text x="101.7" y="787.2" font-size="8.9" fill="#222" text-anchor="end" transform="rotate(-45 101.7 787.2)">28-57</text>
<line x1="118.9" y1="778.8" x2="118.9" y2="781.1" stroke="#707070" stroke-width="0.9"/>
<text x="122.5" y="787.2" font-size="8.9" fill="#222" text-anchor="end" transform="rotate(-45 122.5 787.2)">58-127</text>
<line x1="147.5" y1="778.8" x2="147.5" y2="781.1" stroke="#707070" stroke-width="0.9"/>
<text x="151.1" y="787.2" font-size="8.9" fill="#222" text-anchor="end" transform="rotate(-45 151.1 787.2)">0-7</text>
<line x1="168.1" y1="778.8" x2="168.1" y2="781.1" stroke="#707070" stroke-width="0.9"/>
<text x="171.7" y="787.2" font-size="8.9" fill="#222" text-anchor="end" transform="rotate(-45 171.7 787.2)">8-27</text>
<line x1="188.9" y1="778.8" x2="188.9" y2="781.1" stroke="#707070" stroke-width="0.9"/>
<text x="192.5" y="787.2" font-size="8.9" fill="#222" text-anchor="end" transform="rotate(-45 192.5 787.2)">28-57</text>
<line x1="209.7" y1="778.8" x2="209.7" y2="781.1" stroke="#707070" stroke-width="0.9"/>
<text x="213.3" y="787.2" font-size="8.9" fill="#222" text-anchor="end" transform="rotate(-45 213.3 787.2)">58-127</text>
<line x1="238.1" y1="778.8" x2="238.1" y2="781.1" stroke="#707070" stroke-width="0.9"/>
<text x="241.7" y="787.2" font-size="8.9" fill="#222" text-anchor="end" transform="rotate(-45 241.7 787.2)">0-7</text>
<line x1="259" y1="778.8" x2="259" y2="781.1" stroke="#707070" stroke-width="0.9"/>
<text x="262.6" y="787.2" font-size="8.9" fill="#222" text-anchor="end" transform="rotate(-45 262.6 787.2)">8-27</text>
<line x1="280" y1="778.8" x2="280" y2="781.1" stroke="#707070" stroke-width="0.9"/>
<text x="283.6" y="787.2" font-size="8.9" fill="#222" text-anchor="end" transform="rotate(-45 283.6 787.2)">28-57</text>
<line x1="300.8" y1="778.8" x2="300.8" y2="781.1" stroke="#707070" stroke-width="0.9"/>
<text x="304.4" y="787.2" font-size="8.9" fill="#222" text-anchor="end" transform="rotate(-45 304.4 787.2)">58-127</text>
<text x="8.4" y="702.0" font-size="10.6" fill="#1a1a1a" text-anchor="middle" transform="rotate(-90 8.4 702.0)">Bulk soil reaction rate</text>
<text x="21.4" y="702.7" font-size="10.6" fill="#1a1a1a" text-anchor="middle" textLength="82" lengthAdjust="spacing" transform="rotate(-90 21.4 702.7)">(nmol g<tspan font-size="7.4" dy="-3.6">−1</tspan><tspan dy="3.6"> min</tspan><tspan font-size="7.4" dy="-3.6">−1</tspan><tspan dy="3.6">)</tspan></text>
<text x="185.6" y="816.8" font-size="10.7" fill="#1a1a1a" text-anchor="middle">Soil age (yrs)</text>
<line x1="56.6" y1="661" x2="56.6" y2="662.3" stroke="#444" stroke-width="0.8"/>
<line x1="56.6" y1="682.1" x2="56.6" y2="684" stroke="#444" stroke-width="0.8"/>
<rect x="48.7" y="662.3" width="15.8" height="19.8" fill="#DE1A22" stroke="#444" stroke-width="0.8"/>
<line x1="48.7" y1="677.2" x2="64.5" y2="677.2" stroke="#333" stroke-width="1.2"/>
<line x1="77.25" y1="654.4" x2="77.25" y2="666" stroke="#444" stroke-width="0.8"/>
<line x1="77.25" y1="674.6" x2="77.25" y2="676.5" stroke="#444" stroke-width="0.8"/>
<rect x="69.2" y="666" width="16.1" height="8.6" fill="#DE1A22" stroke="#444" stroke-width="0.8"/>
<line x1="69.2" y1="671.6" x2="85.3" y2="671.6" stroke="#333" stroke-width="1.2"/>
<line x1="98.1" y1="677" x2="98.1" y2="677.7" stroke="#444" stroke-width="0.8"/>
<line x1="98.1" y1="681.6" x2="98.1" y2="682.5" stroke="#444" stroke-width="0.8"/>
<rect x="90.2" y="677.7" width="15.8" height="3.9" fill="#DE1A22" stroke="#444" stroke-width="0.8"/>
<line x1="90.2" y1="679.5" x2="106" y2="679.5" stroke="#333" stroke-width="1.2"/>
<line x1="119" y1="643.4" x2="119" y2="661.4" stroke="#444" stroke-width="0.8"/>
<line x1="119" y1="677.2" x2="119" y2="682" stroke="#444" stroke-width="0.8"/>
<rect x="111.4" y="661.4" width="15.2" height="15.8" fill="#DE1A22" stroke="#444" stroke-width="0.8"/>
<line x1="111.4" y1="671.9" x2="126.6" y2="671.9" stroke="#333" stroke-width="1.2"/>
<line x1="147.45" y1="672.8" x2="147.45" y2="680.2" stroke="#444" stroke-width="0.8"/>
<line x1="147.45" y1="697.3" x2="147.45" y2="699" stroke="#444" stroke-width="0.8"/>
<rect x="139.4" y="680.2" width="16.1" height="17.1" fill="#DCC785" stroke="#444" stroke-width="0.8"/>
<line x1="139.4" y1="695.6" x2="155.5" y2="695.6" stroke="#333" stroke-width="1.2"/>
<line x1="168.1" y1="677.2" x2="168.1" y2="696.5" stroke="#444" stroke-width="0.8"/>
<line x1="168.1" y1="708.2" x2="168.1" y2="714.5" stroke="#444" stroke-width="0.8"/>
<rect x="160.5" y="696.5" width="15.2" height="11.7" fill="#DCC785" stroke="#444" stroke-width="0.8"/>
<line x1="160.5" y1="706.1" x2="175.7" y2="706.1" stroke="#333" stroke-width="1.2"/>
<line x1="188.85" y1="704" x2="188.85" y2="705.2" stroke="#444" stroke-width="0.8"/>
<line x1="188.85" y1="709.6" x2="188.85" y2="710.5" stroke="#444" stroke-width="0.8"/>
<rect x="181.3" y="705.2" width="15.1" height="4.4" fill="#DCC785" stroke="#444" stroke-width="0.8"/>
<line x1="181.3" y1="707" x2="196.4" y2="707" stroke="#333" stroke-width="1.2"/>
<line x1="209.7" y1="694" x2="209.7" y2="695.1" stroke="#444" stroke-width="0.8"/>
<line x1="209.7" y1="702.6" x2="209.7" y2="703.5" stroke="#444" stroke-width="0.8"/>
<rect x="202" y="695.1" width="15.4" height="7.5" fill="#DCC785" stroke="#444" stroke-width="0.8"/>
<line x1="202" y1="696" x2="217.4" y2="696" stroke="#333" stroke-width="1.2"/>
<line x1="238.05" y1="742.9" x2="238.05" y2="750.5" stroke="#444" stroke-width="0.8"/>
<line x1="238.05" y1="770.6" x2="238.05" y2="772" stroke="#444" stroke-width="0.8"/>
<rect x="230.2" y="750.5" width="15.7" height="20.1" fill="#2B83C0" stroke="#444" stroke-width="0.8"/>
<line x1="230.2" y1="764.8" x2="245.9" y2="764.8" stroke="#333" stroke-width="1.2"/>
<line x1="259" y1="734" x2="259" y2="735.4" stroke="#444" stroke-width="0.8"/>
<line x1="259" y1="740.6" x2="259" y2="741.5" stroke="#444" stroke-width="0.8"/>
<rect x="251.2" y="735.4" width="15.6" height="5.2" fill="#2B83C0" stroke="#444" stroke-width="0.8"/>
<line x1="251.2" y1="739.4" x2="266.8" y2="739.4" stroke="#333" stroke-width="1.2"/>
<line x1="280" y1="731.5" x2="280" y2="734.2" stroke="#444" stroke-width="0.8"/>
<line x1="280" y1="742.6" x2="280" y2="747.3" stroke="#444" stroke-width="0.8"/>
<rect x="272.2" y="734.2" width="15.6" height="8.4" fill="#2B83C0" stroke="#444" stroke-width="0.8"/>
<line x1="272.2" y1="735.9" x2="287.8" y2="735.9" stroke="#333" stroke-width="1.2"/>
<line x1="300.75" y1="718.5" x2="300.75" y2="719.3" stroke="#444" stroke-width="0.8"/>
<line x1="300.75" y1="721.5" x2="300.75" y2="722.5" stroke="#444" stroke-width="0.8"/>
<rect x="292.7" y="719.3" width="16.1" height="2.2" fill="#2B83C0" stroke="#444" stroke-width="0.8"/>
<line x1="292.7" y1="720.1" x2="308.8" y2="720.1" stroke="#333" stroke-width="1.2"/>
<circle cx="53" cy="677" r="1.55" fill="#000"/>
<circle cx="60.5" cy="677" r="1.55" fill="#000"/>
<circle cx="57" cy="661.5" r="1.55" fill="#000"/>
<path d="M55,659.9 L56.9,663.32 L53.1,663.32Z" fill="#000"/>
<path d="M58,660.6 L59.9,664.02 L56.1,664.02Z" fill="#000"/>
<rect x="52.5" y="680.5" width="3" height="3" fill="#000"/>
<line x1="53" y1="685" x2="57" y2="685" stroke="#000" stroke-width="0.7"/>
<line x1="55" y1="683" x2="55" y2="687" stroke="#000" stroke-width="0.7"/>
<line x1="58" y1="685.5" x2="62" y2="685.5" stroke="#000" stroke-width="0.7"/>
<line x1="60" y1="683.5" x2="60" y2="687.5" stroke="#000" stroke-width="0.7"/>
<line x1="55.5" y1="682" x2="58.5" y2="685" stroke="#000" stroke-width="0.7"/>
<line x1="55.5" y1="685" x2="58.5" y2="682" stroke="#000" stroke-width="0.7"/>
<circle cx="74.6" cy="654.9" r="1.55" fill="#000"/>
<circle cx="80.6" cy="653.7" r="1.55" fill="#000"/>
<path d="M75,667.1 L76.9,670.52 L73.1,670.52Z" fill="#000"/>
<path d="M78.5,667.1 L80.4,670.52 L76.6,670.52Z" fill="#000"/>
<circle cx="77" cy="674" r="1.55" fill="#000"/>
<rect x="74.5" y="670.5" width="3" height="3" fill="#000"/>
<circle cx="94.8" cy="660" r="1.55" fill="#000"/>
<circle cx="99.9" cy="658.5" r="1.55" fill="#000"/>
<path d="M97,675.1 L98.9,678.52 L95.1,678.52Z" fill="#000"/>
<circle cx="95.5" cy="681" r="1.55" fill="#000"/>
<rect x="97" y="679" width="3" height="3" fill="#000"/>
<line x1="99" y1="678.5" x2="102" y2="681.5" stroke="#000" stroke-width="0.7"/>
<line x1="99" y1="681.5" x2="102" y2="678.5" stroke="#000" stroke-width="0.7"/>
<circle cx="119" cy="643.4" r="1.55" fill="#000"/>
<path d="M122,656.1 L123.9,659.52 L120.1,659.52Z" fill="#000"/>
<line x1="117" y1="671" x2="121" y2="671" stroke="#000" stroke-width="0.7"/>
<line x1="119" y1="669" x2="119" y2="673" stroke="#000" stroke-width="0.7"/>
<rect x="115.5" y="673.5" width="3" height="3" fill="#000"/>
<circle cx="120.5" cy="681.5" r="1.55" fill="#000"/>
<path d="M116,679.1 L117.9,682.52 L114.1,682.52Z" fill="#000"/>
<circle cx="147.5" cy="672.8" r="1.55" fill="#000"/>
<path d="M145.5,677.3 L147.4,680.72 L143.6,680.72Z" fill="#000"/>
<path d="M151.5,679.6 L153.4,683.02 L149.6,683.02Z" fill="#000"/>
<rect x="145.5" y="693.5" width="3" height="3" fill="#000"/>
<circle cx="150.5" cy="697.5" r="1.55" fill="#000"/>
<line x1="147.5" y1="694.5" x2="150.5" y2="697.5" stroke="#000" stroke-width="0.7"/>
<line x1="147.5" y1="697.5" x2="150.5" y2="694.5" stroke="#000" stroke-width="0.7"/>
<circle cx="168" cy="677.2" r="1.55" fill="#000"/>
<rect x="165" y="700.5" width="3" height="3" fill="#000"/>
<circle cx="168.5" cy="709" r="1.55" fill="#000"/>
<circle cx="168.5" cy="714.5" r="1.55" fill="#000"/>
<circle cx="185.3" cy="694.5" r="1.55" fill="#000"/>
<circle cx="190.8" cy="694.5" r="1.55" fill="#000"/>
<path d="M187,703.1 L188.9,706.52 L185.1,706.52Z" fill="#000"/>
<rect x="184.5" y="707.5" width="3" height="3" fill="#000"/>
<circle cx="187.5" cy="717.5" r="1.55" fill="#000"/>
<circle cx="207.8" cy="671.5" r="1.55" fill="#000"/>
<circle cx="213.2" cy="670.5" r="1.55" fill="#000"/>
<line x1="205" y1="695.5" x2="209" y2="695.5" stroke="#000" stroke-width="0.7"/>
<line x1="207" y1="693.5" x2="207" y2="697.5" stroke="#000" stroke-width="0.7"/>
<rect x="209" y="699.5" width="3" height="3" fill="#000"/>
<circle cx="208" cy="703" r="1.55" fill="#000"/>
<path d="M206.5,716.6 L208.4,720.02 L204.6,720.02Z" fill="#000"/>
<path d="M214,716.6 L215.9,720.02 L212.1,720.02Z" fill="#000"/>
<path d="M238.5,741.1 L240.4,744.52 L236.6,744.52Z" fill="#000"/>
<path d="M237.5,748.6 L239.4,752.02 L235.6,752.02Z" fill="#000"/>
<circle cx="235" cy="764.8" r="1.55" fill="#000"/>
<circle cx="236" cy="770.6" r="1.55" fill="#000"/>
<line x1="233" y1="770.5" x2="236" y2="773.5" stroke="#000" stroke-width="0.7"/>
<line x1="233" y1="773.5" x2="236" y2="770.5" stroke="#000" stroke-width="0.7"/>
<path d="M258.5,732.1 L260.4,735.52 L256.6,735.52Z" fill="#000"/>
<circle cx="259.5" cy="740" r="1.55" fill="#000"/>
<circle cx="258" cy="740.5" r="1.55" fill="#000"/>
<circle cx="278" cy="731.5" r="1.55" fill="#000"/>
<path d="M277,735.6 L278.9,739.02 L275.1,739.02Z" fill="#000"/>
<circle cx="283.5" cy="734" r="1.55" fill="#000"/>
<circle cx="282" cy="742" r="1.55" fill="#000"/>
<circle cx="279.5" cy="744.5" r="1.55" fill="#000"/>
<line x1="277.5" y1="747.3" x2="281.5" y2="747.3" stroke="#000" stroke-width="0.7"/>
<line x1="279.5" y1="745.3" x2="279.5" y2="749.3" stroke="#000" stroke-width="0.7"/>
<circle cx="297.5" cy="720.3" r="1.55" fill="#000"/>
<circle cx="300.5" cy="719" r="1.55" fill="#000"/>
<path d="M303,718.1 L304.9,721.52 L301.1,721.52Z" fill="#000"/>
<circle cx="297" cy="726.3" r="1.55" fill="#000"/>
<path d="M301,737 L302.9,740.42 L299.1,740.42Z" fill="#000"/>
<text x="267.7" y="648.8" font-size="8.8" fill="#1a1a1a">Depth (cm)</text>
<circle cx="271.3" cy="658.3" r="1.1" fill="#000"/>
<text x="280" y="661" font-size="7.6" fill="#1a1a1a">0−10</text>
<path d="M271.3,665.5 L272.7,668.02 L269.9,668.02Z" fill="#000"/>
<text x="280" y="669.6" font-size="7.6" fill="#1a1a1a">10−20</text>
<rect x="270.25" y="674.35" width="2.1" height="2.1" fill="#000"/>
<text x="280" y="678.1" font-size="7.6" fill="#1a1a1a">20−30</text>
<line x1="269.8" y1="684.2" x2="272.8" y2="684.2" stroke="#555" stroke-width="0.7"/>
<line x1="271.3" y1="682.7" x2="271.3" y2="685.7" stroke="#555" stroke-width="0.7"/>
<text x="280" y="686.9" font-size="7.6" fill="#1a1a1a">30−40</text>
<line x1="270.2" y1="691.5" x2="272.4" y2="693.7" stroke="#000" stroke-width="0.7"/>
<line x1="270.2" y1="693.7" x2="272.4" y2="691.5" stroke="#000" stroke-width="0.7"/>
<text x="280" y="695.3" font-size="7.6" fill="#1a1a1a">40−50</text>
<text x="352.2" y="633.6" font-size="27" fill="#000" font-weight="bold">g</text>
<rect x="398.4" y="621.4" width="87.5" height="14.4" fill="#fff" stroke="#666" stroke-width="0.9"/>
<text x="442.15" y="631.8" font-size="10.5" fill="#1a1a1a" text-anchor="middle">H<tspan font-size="6.6" dy="2.4">2</tspan></text>
<rect x="488.5" y="621.4" width="87.9" height="14.4" fill="#fff" stroke="#666" stroke-width="0.9"/>
<text x="532.45" y="631.8" font-size="10.5" fill="#1a1a1a" text-anchor="middle">CO</text>
<rect x="579.4" y="621.4" width="87.7" height="14.4" fill="#fff" stroke="#666" stroke-width="0.9"/>
<text x="623.25" y="631.8" font-size="10.5" fill="#1a1a1a" text-anchor="middle">CH<tspan font-size="6.6" dy="2.4">4</tspan></text>
<line x1="398.4" y1="635.8" x2="398.4" y2="778.5" stroke="#707070" stroke-width="1.0"/>
<line x1="396.1" y1="642.4" x2="398.4" y2="642.4" stroke="#707070" stroke-width="0.9"/>
<text x="390.9" y="646.2" font-size="8.4" fill="#222" text-anchor="end">10</text>
<text x="391.2" y="642.2" font-size="6.2" fill="#222">0</text>
<line x1="396.1" y1="694.4" x2="398.4" y2="694.4" stroke="#707070" stroke-width="0.9"/>
<text x="390.9" y="698.2" font-size="8.4" fill="#222" text-anchor="end">10</text>
<text x="391.2" y="694.2" font-size="6.2" fill="#222">−2</text>
<line x1="396.1" y1="745.4" x2="398.4" y2="745.4" stroke="#707070" stroke-width="0.9"/>
<text x="390.9" y="749.2" font-size="8.4" fill="#222" text-anchor="end">10</text>
<text x="391.2" y="745.2" font-size="6.2" fill="#222">−4</text>
<line x1="398.4" y1="778.5" x2="485.9" y2="778.5" stroke="#707070" stroke-width="1.0"/>
<line x1="488.5" y1="778.5" x2="575.9" y2="778.5" stroke="#707070" stroke-width="1.0"/>
<line x1="579.9" y1="778.5" x2="667" y2="778.5" stroke="#707070" stroke-width="1.0"/>
<line x1="414.5" y1="778.5" x2="414.5" y2="780.8" stroke="#707070" stroke-width="0.9"/>
<text x="417.5" y="786.2" font-size="8.9" fill="#222" text-anchor="end" transform="rotate(-45 417.5 786.2)">&gt;5</text>
<line x1="441.6" y1="778.5" x2="441.6" y2="780.8" stroke="#707070" stroke-width="0.9"/>
<text x="444.6" y="786.2" font-size="8.9" fill="#222" text-anchor="end" transform="rotate(-45 444.6 786.2)">10</text>
<line x1="469.4" y1="778.5" x2="469.4" y2="780.8" stroke="#707070" stroke-width="0.9"/>
<text x="472.4" y="786.2" font-size="8.9" fill="#222" text-anchor="end" transform="rotate(-45 472.4 786.2)">21</text>
<line x1="505.3" y1="778.5" x2="505.3" y2="780.8" stroke="#707070" stroke-width="0.9"/>
<text x="508.3" y="786.2" font-size="8.9" fill="#222" text-anchor="end" transform="rotate(-45 508.3 786.2)">&gt;5</text>
<line x1="532.6" y1="778.5" x2="532.6" y2="780.8" stroke="#707070" stroke-width="0.9"/>
<text x="535.6" y="786.2" font-size="8.9" fill="#222" text-anchor="end" transform="rotate(-45 535.6 786.2)">10</text>
<line x1="559.8" y1="778.5" x2="559.8" y2="780.8" stroke="#707070" stroke-width="0.9"/>
<text x="562.8" y="786.2" font-size="8.9" fill="#222" text-anchor="end" transform="rotate(-45 562.8 786.2)">21</text>
<line x1="596" y1="778.5" x2="596" y2="780.8" stroke="#707070" stroke-width="0.9"/>
<text x="599" y="786.2" font-size="8.9" fill="#222" text-anchor="end" transform="rotate(-45 599 786.2)">&gt;5</text>
<line x1="623.4" y1="778.5" x2="623.4" y2="780.8" stroke="#707070" stroke-width="0.9"/>
<text x="626.4" y="786.2" font-size="8.9" fill="#222" text-anchor="end" transform="rotate(-45 626.4 786.2)">10</text>
<line x1="650.6" y1="778.5" x2="650.6" y2="780.8" stroke="#707070" stroke-width="0.9"/>
<text x="653.6" y="786.2" font-size="8.9" fill="#222" text-anchor="end" transform="rotate(-45 653.6 786.2)">21</text>
<text x="357.6" y="703.2" font-size="10.6" fill="#1a1a1a" text-anchor="middle" transform="rotate(-90 357.6 703.2)">Bulk soil reaction rate</text>
<text x="370.0" y="702.7" font-size="10.6" fill="#1a1a1a" text-anchor="middle" transform="rotate(-90 370.0 702.7)">(nmol g<tspan font-size="7.4" dy="-3.6">−1</tspan><tspan dy="3.6"> min</tspan><tspan font-size="7.4" dy="-3.6">−1</tspan><tspan dy="3.6">)</tspan></text>
<text x="537.6" y="817.2" font-size="10.7" fill="#1a1a1a" text-anchor="middle">Soil age (yrs)</text>
<line x1="414.45" y1="703" x2="414.45" y2="704.1" stroke="#444" stroke-width="0.8"/>
<line x1="414.45" y1="707.2" x2="414.45" y2="709" stroke="#444" stroke-width="0.8"/>
<rect x="404.2" y="704.1" width="20.5" height="3.1" fill="#DE1A22" stroke="#444" stroke-width="0.8"/>
<line x1="404.2" y1="705.7" x2="424.7" y2="705.7" stroke="#333" stroke-width="1.2"/>
<line x1="441.65" y1="657" x2="441.65" y2="661.3" stroke="#444" stroke-width="0.8"/>
<line x1="441.65" y1="671.7" x2="441.65" y2="676.6" stroke="#444" stroke-width="0.8"/>
<rect x="431.4" y="661.3" width="20.5" height="10.4" fill="#DE1A22" stroke="#444" stroke-width="0.8"/>
<line x1="431.4" y1="667.3" x2="451.9" y2="667.3" stroke="#333" stroke-width="1.2"/>
<line x1="469.45" y1="642.4" x2="469.45" y2="644.2" stroke="#444" stroke-width="0.8"/>
<line x1="469.45" y1="648.5" x2="469.45" y2="652" stroke="#444" stroke-width="0.8"/>
<rect x="459.1" y="644.2" width="20.7" height="4.3" fill="#DE1A22" stroke="#444" stroke-width="0.8"/>
<line x1="459.1" y1="646.3" x2="479.8" y2="646.3" stroke="#333" stroke-width="1.2"/>
<line x1="494.7" y1="741.2" x2="516" y2="741.2" stroke="#444" stroke-width="1.2"/>
<line x1="532.65" y1="690" x2="532.65" y2="695" stroke="#444" stroke-width="0.8"/>
<line x1="532.65" y1="703.2" x2="532.65" y2="706" stroke="#444" stroke-width="0.8"/>
<rect x="522.4" y="695" width="20.5" height="8.2" fill="#DCC785" stroke="#444" stroke-width="0.8"/>
<line x1="522.4" y1="699.9" x2="542.9" y2="699.9" stroke="#333" stroke-width="1.2"/>
<line x1="559.75" y1="669.2" x2="559.75" y2="672.2" stroke="#444" stroke-width="0.8"/>
<line x1="559.75" y1="679.2" x2="559.75" y2="681.8" stroke="#444" stroke-width="0.8"/>
<rect x="549.5" y="672.2" width="20.5" height="7" fill="#DCC785" stroke="#444" stroke-width="0.8"/>
<line x1="549.5" y1="675.7" x2="570" y2="675.7" stroke="#333" stroke-width="1.2"/>
<line x1="596" y1="756" x2="596" y2="756.4" stroke="#444" stroke-width="0.8"/>
<line x1="596" y1="761.3" x2="596" y2="763.5" stroke="#444" stroke-width="0.8"/>
<rect x="585.5" y="756.4" width="21" height="4.9" fill="#2B83C0" stroke="#444" stroke-width="0.8"/>
<line x1="585.5" y1="757.3" x2="606.5" y2="757.3" stroke="#333" stroke-width="1.2"/>
<line x1="623.45" y1="752.2" x2="623.45" y2="755.2" stroke="#444" stroke-width="0.8"/>
<line x1="623.45" y1="761.8" x2="623.45" y2="764.5" stroke="#444" stroke-width="0.8"/>
<rect x="613.2" y="755.2" width="20.5" height="6.6" fill="#2B83C0" stroke="#444" stroke-width="0.8"/>
<line x1="613.2" y1="758.3" x2="633.7" y2="758.3" stroke="#333" stroke-width="1.2"/>
<line x1="650.65" y1="753" x2="650.65" y2="756.4" stroke="#444" stroke-width="0.8"/>
<line x1="650.65" y1="766" x2="650.65" y2="771.8" stroke="#444" stroke-width="0.8"/>
<rect x="640.3" y="756.4" width="20.7" height="9.6" fill="#2B83C0" stroke="#444" stroke-width="0.8"/>
<line x1="640.3" y1="759.6" x2="661" y2="759.6" stroke="#333" stroke-width="1.2"/>
<circle cx="415" cy="703.5" r="1.5" fill="#000"/>
<circle cx="415.5" cy="706" r="1.5" fill="#000"/>
<circle cx="413.5" cy="709.5" r="1.5" fill="#000"/>
<circle cx="438.6" cy="655.8" r="1.5" fill="#000"/>
<circle cx="446.3" cy="667" r="1.5" fill="#000"/>
<circle cx="438.6" cy="676.6" r="1.5" fill="#000"/>
<circle cx="470" cy="642.4" r="1.5" fill="#000"/>
<circle cx="473.2" cy="645.7" r="1.5" fill="#000"/>
<circle cx="470.5" cy="652" r="1.5" fill="#000"/>
<circle cx="502" cy="741.5" r="1.5" fill="#000"/>
<circle cx="510" cy="740.8" r="1.5" fill="#000"/>
<circle cx="533.4" cy="690" r="1.5" fill="#000"/>
<circle cx="534" cy="700" r="1.5" fill="#000"/>
<circle cx="537.2" cy="706.2" r="1.5" fill="#000"/>
<circle cx="560" cy="669.5" r="1.5" fill="#000"/>
<circle cx="559.2" cy="675.5" r="1.5" fill="#000"/>
<circle cx="556.4" cy="681.8" r="1.5" fill="#000"/>
<circle cx="597.5" cy="756.2" r="1.5" fill="#000"/>
<circle cx="601" cy="757" r="1.5" fill="#000"/>
<circle cx="593" cy="765.3" r="1.5" fill="#000"/>
<circle cx="619.5" cy="752.2" r="1.5" fill="#000"/>
<circle cx="628" cy="758.2" r="1.5" fill="#000"/>
<circle cx="624.2" cy="765.3" r="1.5" fill="#000"/>
<circle cx="651" cy="753.2" r="1.5" fill="#000"/>
<circle cx="651" cy="759.6" r="1.5" fill="#000"/>
<circle cx="649.6" cy="771.8" r="1.5" fill="#000"/>
</svg></body></html>
